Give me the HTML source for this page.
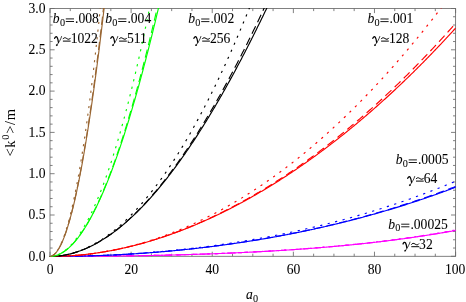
<!DOCTYPE html>
<html><head><meta charset="utf-8"><title>plot</title>
<style>html,body{margin:0;padding:0;background:#fff;}body{width:466px;height:302px;overflow:hidden;position:relative;font-family:"Liberation Serif",serif;}</style>
</head><body>
<svg width="466" height="302" viewBox="0 0 466 302" style="position:absolute;left:0;top:0;will-change:transform">
<defs><clipPath id="cp"><rect x="49.6" y="8.1" width="406.4" height="248.7"/></clipPath></defs>

<g stroke="#6a6a6a" stroke-width="0.85" fill="none">
<rect x="50.0" y="8.5" width="405.6" height="247.8"/>
<path d="M50.00,256.3 v-4.6 M50.00,8.5 v4.6"/>
<path d="M70.28,256.3 v-2.6 M70.28,8.5 v2.6"/>
<path d="M90.56,256.3 v-2.6 M90.56,8.5 v2.6"/>
<path d="M110.84,256.3 v-2.6 M110.84,8.5 v2.6"/>
<path d="M131.12,256.3 v-4.6 M131.12,8.5 v4.6"/>
<path d="M151.40,256.3 v-2.6 M151.40,8.5 v2.6"/>
<path d="M171.68,256.3 v-2.6 M171.68,8.5 v2.6"/>
<path d="M191.96,256.3 v-2.6 M191.96,8.5 v2.6"/>
<path d="M212.24,256.3 v-4.6 M212.24,8.5 v4.6"/>
<path d="M232.52,256.3 v-2.6 M232.52,8.5 v2.6"/>
<path d="M252.80,256.3 v-2.6 M252.80,8.5 v2.6"/>
<path d="M273.08,256.3 v-2.6 M273.08,8.5 v2.6"/>
<path d="M293.36,256.3 v-4.6 M293.36,8.5 v4.6"/>
<path d="M313.64,256.3 v-2.6 M313.64,8.5 v2.6"/>
<path d="M333.92,256.3 v-2.6 M333.92,8.5 v2.6"/>
<path d="M354.20,256.3 v-2.6 M354.20,8.5 v2.6"/>
<path d="M374.48,256.3 v-4.6 M374.48,8.5 v4.6"/>
<path d="M394.76,256.3 v-2.6 M394.76,8.5 v2.6"/>
<path d="M415.04,256.3 v-2.6 M415.04,8.5 v2.6"/>
<path d="M435.32,256.3 v-2.6 M435.32,8.5 v2.6"/>
<path d="M455.60,256.3 v-4.6 M455.60,8.5 v4.6"/>
<path d="M50.0,256.30 h4.6 M455.6,256.30 h-4.6"/>
<path d="M50.0,248.04 h2.6 M455.6,248.04 h-2.6"/>
<path d="M50.0,239.78 h2.6 M455.6,239.78 h-2.6"/>
<path d="M50.0,231.52 h2.6 M455.6,231.52 h-2.6"/>
<path d="M50.0,223.26 h2.6 M455.6,223.26 h-2.6"/>
<path d="M50.0,215.00 h4.6 M455.6,215.00 h-4.6"/>
<path d="M50.0,206.74 h2.6 M455.6,206.74 h-2.6"/>
<path d="M50.0,198.48 h2.6 M455.6,198.48 h-2.6"/>
<path d="M50.0,190.22 h2.6 M455.6,190.22 h-2.6"/>
<path d="M50.0,181.96 h2.6 M455.6,181.96 h-2.6"/>
<path d="M50.0,173.70 h4.6 M455.6,173.70 h-4.6"/>
<path d="M50.0,165.44 h2.6 M455.6,165.44 h-2.6"/>
<path d="M50.0,157.18 h2.6 M455.6,157.18 h-2.6"/>
<path d="M50.0,148.92 h2.6 M455.6,148.92 h-2.6"/>
<path d="M50.0,140.66 h2.6 M455.6,140.66 h-2.6"/>
<path d="M50.0,132.40 h4.6 M455.6,132.40 h-4.6"/>
<path d="M50.0,124.14 h2.6 M455.6,124.14 h-2.6"/>
<path d="M50.0,115.88 h2.6 M455.6,115.88 h-2.6"/>
<path d="M50.0,107.62 h2.6 M455.6,107.62 h-2.6"/>
<path d="M50.0,99.36 h2.6 M455.6,99.36 h-2.6"/>
<path d="M50.0,91.10 h4.6 M455.6,91.10 h-4.6"/>
<path d="M50.0,82.84 h2.6 M455.6,82.84 h-2.6"/>
<path d="M50.0,74.58 h2.6 M455.6,74.58 h-2.6"/>
<path d="M50.0,66.32 h2.6 M455.6,66.32 h-2.6"/>
<path d="M50.0,58.06 h2.6 M455.6,58.06 h-2.6"/>
<path d="M50.0,49.80 h4.6 M455.6,49.80 h-4.6"/>
<path d="M50.0,41.54 h2.6 M455.6,41.54 h-2.6"/>
<path d="M50.0,33.28 h2.6 M455.6,33.28 h-2.6"/>
<path d="M50.0,25.02 h2.6 M455.6,25.02 h-2.6"/>
<path d="M50.0,16.76 h2.6 M455.6,16.76 h-2.6"/>
<path d="M50.0,8.50 h4.6 M455.6,8.50 h-4.6"/>
</g>
<g clip-path="url(#cp)" fill="none" stroke-width="1.15" stroke-linejoin="round">
<path d="M49.50,256.50 L50.31,256.50 L51.13,256.50 L51.94,256.50 L52.75,256.50 L53.57,256.50 L54.38,256.50 L55.20,256.50 L56.01,256.50 L56.82,256.49 L57.64,256.49 L58.45,256.49 L59.26,256.49 L60.08,256.49 L60.89,256.49 L61.70,256.49 L62.52,256.48 L63.33,256.48 L64.15,256.48 L64.96,256.48 L65.77,256.48 L66.59,256.47 L67.40,256.47 L68.21,256.47 L69.03,256.46 L69.84,256.46 L70.65,256.46 L71.47,256.45 L72.28,256.45 L73.10,256.45 L73.91,256.44 L74.72,256.44 L75.54,256.44 L76.35,256.43 L77.16,256.43 L77.98,256.42 L78.79,256.42 L79.60,256.42 L80.42,256.41 L81.23,256.41 L82.05,256.40 L82.86,256.40 L83.67,256.39 L84.49,256.39 L85.30,256.38 L86.11,256.37 L86.93,256.37 L87.74,256.36 L88.55,256.36 L89.37,256.35 L90.18,256.34 L90.99,256.34 L91.81,256.33 L92.62,256.33 L93.44,256.32 L94.25,256.31 L95.06,256.30 L95.88,256.30 L96.69,256.29 L97.50,256.28 L98.32,256.28 L99.13,256.27 L99.94,256.26 L100.76,256.25 L101.57,256.24 L102.39,256.24 L103.20,256.23 L104.01,256.22 L104.83,256.21 L105.64,256.20 L106.45,256.19 L107.27,256.18 L108.08,256.18 L108.89,256.17 L109.71,256.16 L110.52,256.15 L111.34,256.14 L112.15,256.13 L112.96,256.12 L113.78,256.11 L114.59,256.10 L115.40,256.09 L116.22,256.08 L117.03,256.07 L117.84,256.06 L118.66,256.04 L119.47,256.03 L120.29,256.02 L121.10,256.01 L121.91,256.00 L122.73,255.99 L123.54,255.98 L124.35,255.96 L125.17,255.95 L125.98,255.94 L126.79,255.93 L127.61,255.92 L128.42,255.90 L129.24,255.89 L130.05,255.88 L130.86,255.86 L131.68,255.85 L132.49,255.84 L133.30,255.82 L134.12,255.81 L134.93,255.80 L135.74,255.78 L136.56,255.77 L137.37,255.76 L138.19,255.74 L139.00,255.73 L139.81,255.71 L140.63,255.70 L141.44,255.68 L142.25,255.67 L143.07,255.65 L143.88,255.64 L144.69,255.62 L145.51,255.61 L146.32,255.59 L147.14,255.57 L147.95,255.56 L148.76,255.54 L149.58,255.52 L150.39,255.51 L151.20,255.49 L152.02,255.47 L152.83,255.46 L153.64,255.44 L154.46,255.42 L155.27,255.40 L156.09,255.39 L156.90,255.37 L157.71,255.35 L158.53,255.33 L159.34,255.31 L160.15,255.30 L160.97,255.28 L161.78,255.26 L162.59,255.24 L163.41,255.22 L164.22,255.20 L165.04,255.18 L165.85,255.16 L166.66,255.14 L167.48,255.12 L168.29,255.10 L169.10,255.08 L169.92,255.06 L170.73,255.04 L171.54,255.02 L172.36,255.00 L173.17,254.98 L173.98,254.96 L174.80,254.93 L175.61,254.91 L176.43,254.89 L177.24,254.87 L178.05,254.85 L178.87,254.82 L179.68,254.80 L180.49,254.78 L181.31,254.76 L182.12,254.73 L182.93,254.71 L183.75,254.69 L184.56,254.66 L185.38,254.64 L186.19,254.61 L187.00,254.59 L187.82,254.56 L188.63,254.54 L189.44,254.52 L190.26,254.49 L191.07,254.47 L191.88,254.44 L192.70,254.41 L193.51,254.39 L194.33,254.36 L195.14,254.34 L195.95,254.31 L196.77,254.28 L197.58,254.26 L198.39,254.23 L199.21,254.20 L200.02,254.18 L200.83,254.15 L201.65,254.12 L202.46,254.09 L203.28,254.06 L204.09,254.04 L204.90,254.01 L205.72,253.98 L206.53,253.95 L207.34,253.92 L208.16,253.89 L208.97,253.86 L209.78,253.83 L210.60,253.80 L211.41,253.77 L212.23,253.74 L213.04,253.71 L213.85,253.68 L214.67,253.65 L215.48,253.62 L216.29,253.59 L217.11,253.55 L217.92,253.52 L218.73,253.49 L219.55,253.46 L220.36,253.43 L221.18,253.39 L221.99,253.36 L222.80,253.33 L223.62,253.29 L224.43,253.26 L225.24,253.23 L226.06,253.19 L226.87,253.16 L227.68,253.12 L228.50,253.09 L229.31,253.05 L230.13,253.02 L230.94,252.98 L231.75,252.95 L232.57,252.91 L233.38,252.88 L234.19,252.84 L235.01,252.80 L235.82,252.77 L236.63,252.73 L237.45,252.69 L238.26,252.65 L239.08,252.62 L239.89,252.58 L240.70,252.54 L241.52,252.50 L242.33,252.46 L243.14,252.42 L243.96,252.38 L244.77,252.34 L245.58,252.31 L246.40,252.27 L247.21,252.23 L248.03,252.18 L248.84,252.14 L249.65,252.10 L250.47,252.06 L251.28,252.02 L252.09,251.98 L252.91,251.94 L253.72,251.89 L254.53,251.85 L255.35,251.81 L256.16,251.77 L256.97,251.72 L257.79,251.68 L258.60,251.63 L259.42,251.59 L260.23,251.55 L261.04,251.50 L261.86,251.46 L262.67,251.41 L263.48,251.37 L264.30,251.32 L265.11,251.27 L265.92,251.23 L266.74,251.18 L267.55,251.13 L268.37,251.09 L269.18,251.04 L269.99,250.99 L270.81,250.94 L271.62,250.90 L272.43,250.85 L273.25,250.80 L274.06,250.75 L274.87,250.70 L275.69,250.65 L276.50,250.60 L277.32,250.55 L278.13,250.50 L278.94,250.45 L279.76,250.40 L280.57,250.35 L281.38,250.29 L282.20,250.24 L283.01,250.19 L283.82,250.14 L284.64,250.08 L285.45,250.03 L286.27,249.98 L287.08,249.92 L287.89,249.87 L288.71,249.82 L289.52,249.76 L290.33,249.71 L291.15,249.65 L291.96,249.59 L292.77,249.54 L293.59,249.48 L294.40,249.43 L295.22,249.37 L296.03,249.31 L296.84,249.25 L297.66,249.20 L298.47,249.14 L299.28,249.08 L300.10,249.02 L300.91,248.96 L301.72,248.90 L302.54,248.84 L303.35,248.78 L304.17,248.72 L304.98,248.66 L305.79,248.60 L306.61,248.54 L307.42,248.47 L308.23,248.41 L309.05,248.35 L309.86,248.29 L310.67,248.22 L311.49,248.16 L312.30,248.10 L313.12,248.03 L313.93,247.97 L314.74,247.90 L315.56,247.84 L316.37,247.77 L317.18,247.70 L318.00,247.64 L318.81,247.57 L319.62,247.50 L320.44,247.44 L321.25,247.37 L322.07,247.30 L322.88,247.23 L323.69,247.16 L324.51,247.09 L325.32,247.02 L326.13,246.95 L326.95,246.88 L327.76,246.81 L328.57,246.74 L329.39,246.67 L330.20,246.60 L331.02,246.52 L331.83,246.45 L332.64,246.38 L333.46,246.30 L334.27,246.23 L335.08,246.16 L335.90,246.08 L336.71,246.01 L337.52,245.93 L338.34,245.85 L339.15,245.78 L339.96,245.70 L340.78,245.62 L341.59,245.55 L342.41,245.47 L343.22,245.39 L344.03,245.31 L344.85,245.23 L345.66,245.15 L346.47,245.07 L347.29,244.99 L348.10,244.91 L348.91,244.83 L349.73,244.75 L350.54,244.67 L351.36,244.58 L352.17,244.50 L352.98,244.42 L353.80,244.34 L354.61,244.25 L355.42,244.17 L356.24,244.08 L357.05,244.00 L357.86,243.91 L358.68,243.82 L359.49,243.74 L360.31,243.65 L361.12,243.56 L361.93,243.47 L362.75,243.39 L363.56,243.30 L364.37,243.21 L365.19,243.12 L366.00,243.03 L366.81,242.94 L367.63,242.85 L368.44,242.75 L369.26,242.66 L370.07,242.57 L370.88,242.48 L371.70,242.38 L372.51,242.29 L373.32,242.19 L374.14,242.10 L374.95,242.00 L375.76,241.91 L376.58,241.81 L377.39,241.72 L378.21,241.62 L379.02,241.52 L379.83,241.42 L380.65,241.32 L381.46,241.22 L382.27,241.13 L383.09,241.03 L383.90,240.92 L384.71,240.82 L385.53,240.72 L386.34,240.62 L387.16,240.52 L387.97,240.41 L388.78,240.31 L389.60,240.21 L390.41,240.10 L391.22,240.00 L392.04,239.89 L392.85,239.79 L393.66,239.68 L394.48,239.57 L395.29,239.46 L396.11,239.36 L396.92,239.25 L397.73,239.14 L398.55,239.03 L399.36,238.92 L400.17,238.81 L400.99,238.70 L401.80,238.58 L402.61,238.47 L403.43,238.36 L404.24,238.25 L405.06,238.13 L405.87,238.02 L406.68,237.90 L407.50,237.79 L408.31,237.67 L409.12,237.55 L409.94,237.44 L410.75,237.32 L411.56,237.20 L412.38,237.08 L413.19,236.96 L414.01,236.84 L414.82,236.72 L415.63,236.60 L416.45,236.48 L417.26,236.36 L418.07,236.24 L418.89,236.11 L419.70,235.99 L420.51,235.86 L421.33,235.74 L422.14,235.61 L422.95,235.49 L423.77,235.36 L424.58,235.23 L425.40,235.11 L426.21,234.98 L427.02,234.85 L427.84,234.72 L428.65,234.59 L429.46,234.46 L430.28,234.33 L431.09,234.19 L431.90,234.06 L432.72,233.93 L433.53,233.79 L434.35,233.66 L435.16,233.53 L435.97,233.39 L436.79,233.25 L437.60,233.12 L438.41,232.98 L439.23,232.84 L440.04,232.70 L440.85,232.56 L441.67,232.42 L442.48,232.28 L443.30,232.14 L444.11,232.00 L444.92,231.86 L445.74,231.71 L446.55,231.57 L447.36,231.43 L448.18,231.28 L448.99,231.13 L449.80,230.99 L450.62,230.84 L451.43,230.69 L452.25,230.55 L453.06,230.40 L453.87,230.25 L454.69,230.10 L455.50,229.95" stroke="#ff00ff" stroke-dasharray="2.2 5.5" stroke-dashoffset="4.01"/>
<path d="M49.50,256.50 L50.31,256.50 L51.13,256.50 L51.94,256.50 L52.75,256.50 L53.57,256.50 L54.38,256.50 L55.20,256.50 L56.01,256.50 L56.82,256.50 L57.64,256.49 L58.45,256.49 L59.26,256.49 L60.08,256.49 L60.89,256.49 L61.70,256.49 L62.52,256.48 L63.33,256.48 L64.15,256.48 L64.96,256.48 L65.77,256.48 L66.59,256.47 L67.40,256.47 L68.21,256.47 L69.03,256.47 L69.84,256.46 L70.65,256.46 L71.47,256.46 L72.28,256.45 L73.10,256.45 L73.91,256.45 L74.72,256.44 L75.54,256.44 L76.35,256.43 L77.16,256.43 L77.98,256.43 L78.79,256.42 L79.60,256.42 L80.42,256.41 L81.23,256.41 L82.05,256.40 L82.86,256.40 L83.67,256.39 L84.49,256.39 L85.30,256.38 L86.11,256.38 L86.93,256.37 L87.74,256.37 L88.55,256.36 L89.37,256.35 L90.18,256.35 L90.99,256.34 L91.81,256.33 L92.62,256.33 L93.44,256.32 L94.25,256.32 L95.06,256.31 L95.88,256.30 L96.69,256.29 L97.50,256.29 L98.32,256.28 L99.13,256.27 L99.94,256.26 L100.76,256.26 L101.57,256.25 L102.39,256.24 L103.20,256.23 L104.01,256.22 L104.83,256.22 L105.64,256.21 L106.45,256.20 L107.27,256.19 L108.08,256.18 L108.89,256.17 L109.71,256.16 L110.52,256.15 L111.34,256.14 L112.15,256.13 L112.96,256.12 L113.78,256.12 L114.59,256.11 L115.40,256.09 L116.22,256.08 L117.03,256.07 L117.84,256.06 L118.66,256.05 L119.47,256.04 L120.29,256.03 L121.10,256.02 L121.91,256.01 L122.73,256.00 L123.54,255.99 L124.35,255.97 L125.17,255.96 L125.98,255.95 L126.79,255.94 L127.61,255.93 L128.42,255.91 L129.24,255.90 L130.05,255.89 L130.86,255.88 L131.68,255.86 L132.49,255.85 L133.30,255.84 L134.12,255.82 L134.93,255.81 L135.74,255.80 L136.56,255.78 L137.37,255.77 L138.19,255.76 L139.00,255.74 L139.81,255.73 L140.63,255.71 L141.44,255.70 L142.25,255.68 L143.07,255.67 L143.88,255.65 L144.69,255.64 L145.51,255.62 L146.32,255.61 L147.14,255.59 L147.95,255.57 L148.76,255.56 L149.58,255.54 L150.39,255.53 L151.20,255.51 L152.02,255.49 L152.83,255.48 L153.64,255.46 L154.46,255.44 L155.27,255.43 L156.09,255.41 L156.90,255.39 L157.71,255.37 L158.53,255.35 L159.34,255.34 L160.15,255.32 L160.97,255.30 L161.78,255.28 L162.59,255.26 L163.41,255.24 L164.22,255.23 L165.04,255.21 L165.85,255.19 L166.66,255.17 L167.48,255.15 L168.29,255.13 L169.10,255.11 L169.92,255.09 L170.73,255.07 L171.54,255.05 L172.36,255.03 L173.17,255.00 L173.98,254.98 L174.80,254.96 L175.61,254.94 L176.43,254.92 L177.24,254.90 L178.05,254.88 L178.87,254.85 L179.68,254.83 L180.49,254.81 L181.31,254.79 L182.12,254.76 L182.93,254.74 L183.75,254.72 L184.56,254.69 L185.38,254.67 L186.19,254.65 L187.00,254.62 L187.82,254.60 L188.63,254.58 L189.44,254.55 L190.26,254.53 L191.07,254.50 L191.88,254.48 L192.70,254.45 L193.51,254.43 L194.33,254.40 L195.14,254.38 L195.95,254.35 L196.77,254.32 L197.58,254.30 L198.39,254.27 L199.21,254.24 L200.02,254.22 L200.83,254.19 L201.65,254.16 L202.46,254.14 L203.28,254.11 L204.09,254.08 L204.90,254.05 L205.72,254.02 L206.53,254.00 L207.34,253.97 L208.16,253.94 L208.97,253.91 L209.78,253.88 L210.60,253.85 L211.41,253.82 L212.23,253.79 L213.04,253.76 L213.85,253.73 L214.67,253.70 L215.48,253.67 L216.29,253.64 L217.11,253.61 L217.92,253.58 L218.73,253.54 L219.55,253.51 L220.36,253.48 L221.18,253.45 L221.99,253.42 L222.80,253.38 L223.62,253.35 L224.43,253.32 L225.24,253.28 L226.06,253.25 L226.87,253.22 L227.68,253.18 L228.50,253.15 L229.31,253.11 L230.13,253.08 L230.94,253.05 L231.75,253.01 L232.57,252.97 L233.38,252.94 L234.19,252.90 L235.01,252.87 L235.82,252.83 L236.63,252.79 L237.45,252.76 L238.26,252.72 L239.08,252.68 L239.89,252.65 L240.70,252.61 L241.52,252.57 L242.33,252.53 L243.14,252.49 L243.96,252.46 L244.77,252.42 L245.58,252.38 L246.40,252.34 L247.21,252.30 L248.03,252.26 L248.84,252.22 L249.65,252.18 L250.47,252.14 L251.28,252.10 L252.09,252.06 L252.91,252.02 L253.72,251.97 L254.53,251.93 L255.35,251.89 L256.16,251.85 L256.97,251.80 L257.79,251.76 L258.60,251.72 L259.42,251.68 L260.23,251.63 L261.04,251.59 L261.86,251.54 L262.67,251.50 L263.48,251.45 L264.30,251.41 L265.11,251.36 L265.92,251.32 L266.74,251.27 L267.55,251.23 L268.37,251.18 L269.18,251.13 L269.99,251.09 L270.81,251.04 L271.62,250.99 L272.43,250.94 L273.25,250.90 L274.06,250.85 L274.87,250.80 L275.69,250.75 L276.50,250.70 L277.32,250.65 L278.13,250.60 L278.94,250.55 L279.76,250.50 L280.57,250.45 L281.38,250.40 L282.20,250.35 L283.01,250.30 L283.82,250.25 L284.64,250.19 L285.45,250.14 L286.27,250.09 L287.08,250.04 L287.89,249.98 L288.71,249.93 L289.52,249.87 L290.33,249.82 L291.15,249.77 L291.96,249.71 L292.77,249.66 L293.59,249.60 L294.40,249.54 L295.22,249.49 L296.03,249.43 L296.84,249.37 L297.66,249.32 L298.47,249.26 L299.28,249.20 L300.10,249.14 L300.91,249.09 L301.72,249.03 L302.54,248.97 L303.35,248.91 L304.17,248.85 L304.98,248.79 L305.79,248.73 L306.61,248.67 L307.42,248.61 L308.23,248.55 L309.05,248.48 L309.86,248.42 L310.67,248.36 L311.49,248.30 L312.30,248.23 L313.12,248.17 L313.93,248.11 L314.74,248.04 L315.56,247.98 L316.37,247.91 L317.18,247.85 L318.00,247.78 L318.81,247.72 L319.62,247.65 L320.44,247.58 L321.25,247.52 L322.07,247.45 L322.88,247.38 L323.69,247.31 L324.51,247.25 L325.32,247.18 L326.13,247.11 L326.95,247.04 L327.76,246.97 L328.57,246.90 L329.39,246.83 L330.20,246.76 L331.02,246.69 L331.83,246.61 L332.64,246.54 L333.46,246.47 L334.27,246.40 L335.08,246.32 L335.90,246.25 L336.71,246.18 L337.52,246.10 L338.34,246.03 L339.15,245.95 L339.96,245.88 L340.78,245.80 L341.59,245.72 L342.41,245.65 L343.22,245.57 L344.03,245.49 L344.85,245.41 L345.66,245.34 L346.47,245.26 L347.29,245.18 L348.10,245.10 L348.91,245.02 L349.73,244.94 L350.54,244.86 L351.36,244.78 L352.17,244.69 L352.98,244.61 L353.80,244.53 L354.61,244.45 L355.42,244.36 L356.24,244.28 L357.05,244.20 L357.86,244.11 L358.68,244.03 L359.49,243.94 L360.31,243.85 L361.12,243.77 L361.93,243.68 L362.75,243.59 L363.56,243.51 L364.37,243.42 L365.19,243.33 L366.00,243.24 L366.81,243.15 L367.63,243.06 L368.44,242.97 L369.26,242.88 L370.07,242.79 L370.88,242.70 L371.70,242.61 L372.51,242.51 L373.32,242.42 L374.14,242.33 L374.95,242.23 L375.76,242.14 L376.58,242.04 L377.39,241.95 L378.21,241.85 L379.02,241.76 L379.83,241.66 L380.65,241.56 L381.46,241.46 L382.27,241.37 L383.09,241.27 L383.90,241.17 L384.71,241.07 L385.53,240.97 L386.34,240.87 L387.16,240.77 L387.97,240.67 L388.78,240.56 L389.60,240.46 L390.41,240.36 L391.22,240.25 L392.04,240.15 L392.85,240.05 L393.66,239.94 L394.48,239.83 L395.29,239.73 L396.11,239.62 L396.92,239.51 L397.73,239.41 L398.55,239.30 L399.36,239.19 L400.17,239.08 L400.99,238.97 L401.80,238.86 L402.61,238.75 L403.43,238.64 L404.24,238.53 L405.06,238.42 L405.87,238.30 L406.68,238.19 L407.50,238.07 L408.31,237.96 L409.12,237.85 L409.94,237.73 L410.75,237.61 L411.56,237.50 L412.38,237.38 L413.19,237.26 L414.01,237.14 L414.82,237.03 L415.63,236.91 L416.45,236.79 L417.26,236.67 L418.07,236.54 L418.89,236.42 L419.70,236.30 L420.51,236.18 L421.33,236.05 L422.14,235.93 L422.95,235.81 L423.77,235.68 L424.58,235.56 L425.40,235.43 L426.21,235.30 L427.02,235.18 L427.84,235.05 L428.65,234.92 L429.46,234.79 L430.28,234.66 L431.09,234.53 L431.90,234.40 L432.72,234.27 L433.53,234.14 L434.35,234.00 L435.16,233.87 L435.97,233.74 L436.79,233.60 L437.60,233.47 L438.41,233.33 L439.23,233.19 L440.04,233.06 L440.85,232.92 L441.67,232.78 L442.48,232.64 L443.30,232.50 L444.11,232.36 L444.92,232.22 L445.74,232.08 L446.55,231.94 L447.36,231.80 L448.18,231.65 L448.99,231.51 L449.80,231.37 L450.62,231.22 L451.43,231.08 L452.25,230.93 L453.06,230.78 L453.87,230.63 L454.69,230.49 L455.50,230.34" stroke="#ff00ff" stroke-dasharray="8.2 4.5" stroke-dashoffset="0.00"/>
<path d="M49.50,256.50 L50.31,256.50 L51.13,256.50 L51.94,256.50 L52.75,256.50 L53.57,256.50 L54.38,256.50 L55.20,256.50 L56.01,256.50 L56.82,256.50 L57.64,256.49 L58.45,256.49 L59.26,256.49 L60.08,256.49 L60.89,256.49 L61.70,256.49 L62.52,256.48 L63.33,256.48 L64.15,256.48 L64.96,256.48 L65.77,256.48 L66.59,256.47 L67.40,256.47 L68.21,256.47 L69.03,256.47 L69.84,256.46 L70.65,256.46 L71.47,256.46 L72.28,256.45 L73.10,256.45 L73.91,256.45 L74.72,256.44 L75.54,256.44 L76.35,256.43 L77.16,256.43 L77.98,256.43 L78.79,256.42 L79.60,256.42 L80.42,256.41 L81.23,256.41 L82.05,256.40 L82.86,256.40 L83.67,256.39 L84.49,256.39 L85.30,256.38 L86.11,256.38 L86.93,256.37 L87.74,256.37 L88.55,256.36 L89.37,256.35 L90.18,256.35 L90.99,256.34 L91.81,256.34 L92.62,256.33 L93.44,256.32 L94.25,256.32 L95.06,256.31 L95.88,256.30 L96.69,256.29 L97.50,256.29 L98.32,256.28 L99.13,256.27 L99.94,256.26 L100.76,256.26 L101.57,256.25 L102.39,256.24 L103.20,256.23 L104.01,256.22 L104.83,256.22 L105.64,256.21 L106.45,256.20 L107.27,256.19 L108.08,256.18 L108.89,256.17 L109.71,256.16 L110.52,256.15 L111.34,256.14 L112.15,256.13 L112.96,256.13 L113.78,256.12 L114.59,256.11 L115.40,256.10 L116.22,256.09 L117.03,256.07 L117.84,256.06 L118.66,256.05 L119.47,256.04 L120.29,256.03 L121.10,256.02 L121.91,256.01 L122.73,256.00 L123.54,255.99 L124.35,255.98 L125.17,255.96 L125.98,255.95 L126.79,255.94 L127.61,255.93 L128.42,255.91 L129.24,255.90 L130.05,255.89 L130.86,255.88 L131.68,255.86 L132.49,255.85 L133.30,255.84 L134.12,255.82 L134.93,255.81 L135.74,255.80 L136.56,255.78 L137.37,255.77 L138.19,255.76 L139.00,255.74 L139.81,255.73 L140.63,255.71 L141.44,255.70 L142.25,255.68 L143.07,255.67 L143.88,255.65 L144.69,255.64 L145.51,255.62 L146.32,255.61 L147.14,255.59 L147.95,255.58 L148.76,255.56 L149.58,255.54 L150.39,255.53 L151.20,255.51 L152.02,255.49 L152.83,255.48 L153.64,255.46 L154.46,255.44 L155.27,255.43 L156.09,255.41 L156.90,255.39 L157.71,255.37 L158.53,255.36 L159.34,255.34 L160.15,255.32 L160.97,255.30 L161.78,255.28 L162.59,255.26 L163.41,255.25 L164.22,255.23 L165.04,255.21 L165.85,255.19 L166.66,255.17 L167.48,255.15 L168.29,255.13 L169.10,255.11 L169.92,255.09 L170.73,255.07 L171.54,255.05 L172.36,255.03 L173.17,255.01 L173.98,254.99 L174.80,254.97 L175.61,254.94 L176.43,254.92 L177.24,254.90 L178.05,254.88 L178.87,254.86 L179.68,254.83 L180.49,254.81 L181.31,254.79 L182.12,254.77 L182.93,254.74 L183.75,254.72 L184.56,254.70 L185.38,254.67 L186.19,254.65 L187.00,254.63 L187.82,254.60 L188.63,254.58 L189.44,254.55 L190.26,254.53 L191.07,254.51 L191.88,254.48 L192.70,254.46 L193.51,254.43 L194.33,254.41 L195.14,254.38 L195.95,254.35 L196.77,254.33 L197.58,254.30 L198.39,254.27 L199.21,254.25 L200.02,254.22 L200.83,254.19 L201.65,254.17 L202.46,254.14 L203.28,254.11 L204.09,254.08 L204.90,254.06 L205.72,254.03 L206.53,254.00 L207.34,253.97 L208.16,253.94 L208.97,253.91 L209.78,253.89 L210.60,253.86 L211.41,253.83 L212.23,253.80 L213.04,253.77 L213.85,253.74 L214.67,253.71 L215.48,253.68 L216.29,253.64 L217.11,253.61 L217.92,253.58 L218.73,253.55 L219.55,253.52 L220.36,253.49 L221.18,253.46 L221.99,253.42 L222.80,253.39 L223.62,253.36 L224.43,253.32 L225.24,253.29 L226.06,253.26 L226.87,253.22 L227.68,253.19 L228.50,253.16 L229.31,253.12 L230.13,253.09 L230.94,253.05 L231.75,253.02 L232.57,252.98 L233.38,252.95 L234.19,252.91 L235.01,252.88 L235.82,252.84 L236.63,252.80 L237.45,252.77 L238.26,252.73 L239.08,252.69 L239.89,252.66 L240.70,252.62 L241.52,252.58 L242.33,252.54 L243.14,252.50 L243.96,252.47 L244.77,252.43 L245.58,252.39 L246.40,252.35 L247.21,252.31 L248.03,252.27 L248.84,252.23 L249.65,252.19 L250.47,252.15 L251.28,252.11 L252.09,252.07 L252.91,252.03 L253.72,251.99 L254.53,251.94 L255.35,251.90 L256.16,251.86 L256.97,251.82 L257.79,251.77 L258.60,251.73 L259.42,251.69 L260.23,251.64 L261.04,251.60 L261.86,251.56 L262.67,251.51 L263.48,251.47 L264.30,251.42 L265.11,251.38 L265.92,251.33 L266.74,251.29 L267.55,251.24 L268.37,251.20 L269.18,251.15 L269.99,251.10 L270.81,251.06 L271.62,251.01 L272.43,250.96 L273.25,250.91 L274.06,250.86 L274.87,250.82 L275.69,250.77 L276.50,250.72 L277.32,250.67 L278.13,250.62 L278.94,250.57 L279.76,250.52 L280.57,250.47 L281.38,250.42 L282.20,250.37 L283.01,250.32 L283.82,250.26 L284.64,250.21 L285.45,250.16 L286.27,250.11 L287.08,250.05 L287.89,250.00 L288.71,249.95 L289.52,249.89 L290.33,249.84 L291.15,249.79 L291.96,249.73 L292.77,249.68 L293.59,249.62 L294.40,249.57 L295.22,249.51 L296.03,249.45 L296.84,249.40 L297.66,249.34 L298.47,249.28 L299.28,249.23 L300.10,249.17 L300.91,249.11 L301.72,249.05 L302.54,248.99 L303.35,248.93 L304.17,248.87 L304.98,248.81 L305.79,248.75 L306.61,248.69 L307.42,248.63 L308.23,248.57 L309.05,248.51 L309.86,248.45 L310.67,248.39 L311.49,248.33 L312.30,248.26 L313.12,248.20 L313.93,248.14 L314.74,248.07 L315.56,248.01 L316.37,247.94 L317.18,247.88 L318.00,247.81 L318.81,247.75 L319.62,247.68 L320.44,247.62 L321.25,247.55 L322.07,247.48 L322.88,247.42 L323.69,247.35 L324.51,247.28 L325.32,247.21 L326.13,247.14 L326.95,247.07 L327.76,247.00 L328.57,246.93 L329.39,246.86 L330.20,246.79 L331.02,246.72 L331.83,246.65 L332.64,246.58 L333.46,246.51 L334.27,246.43 L335.08,246.36 L335.90,246.29 L336.71,246.21 L337.52,246.14 L338.34,246.07 L339.15,245.99 L339.96,245.92 L340.78,245.84 L341.59,245.76 L342.41,245.69 L343.22,245.61 L344.03,245.53 L344.85,245.46 L345.66,245.38 L346.47,245.30 L347.29,245.22 L348.10,245.14 L348.91,245.06 L349.73,244.98 L350.54,244.90 L351.36,244.82 L352.17,244.74 L352.98,244.66 L353.80,244.58 L354.61,244.49 L355.42,244.41 L356.24,244.33 L357.05,244.24 L357.86,244.16 L358.68,244.08 L359.49,243.99 L360.31,243.91 L361.12,243.82 L361.93,243.73 L362.75,243.65 L363.56,243.56 L364.37,243.47 L365.19,243.38 L366.00,243.30 L366.81,243.21 L367.63,243.12 L368.44,243.03 L369.26,242.94 L370.07,242.85 L370.88,242.76 L371.70,242.66 L372.51,242.57 L373.32,242.48 L374.14,242.39 L374.95,242.29 L375.76,242.20 L376.58,242.10 L377.39,242.01 L378.21,241.91 L379.02,241.82 L379.83,241.72 L380.65,241.63 L381.46,241.53 L382.27,241.43 L383.09,241.33 L383.90,241.23 L384.71,241.14 L385.53,241.04 L386.34,240.94 L387.16,240.84 L387.97,240.73 L388.78,240.63 L389.60,240.53 L390.41,240.43 L391.22,240.33 L392.04,240.22 L392.85,240.12 L393.66,240.01 L394.48,239.91 L395.29,239.80 L396.11,239.70 L396.92,239.59 L397.73,239.48 L398.55,239.38 L399.36,239.27 L400.17,239.16 L400.99,239.05 L401.80,238.94 L402.61,238.83 L403.43,238.72 L404.24,238.61 L405.06,238.50 L405.87,238.39 L406.68,238.27 L407.50,238.16 L408.31,238.05 L409.12,237.93 L409.94,237.82 L410.75,237.70 L411.56,237.59 L412.38,237.47 L413.19,237.35 L414.01,237.23 L414.82,237.12 L415.63,237.00 L416.45,236.88 L417.26,236.76 L418.07,236.64 L418.89,236.52 L419.70,236.40 L420.51,236.27 L421.33,236.15 L422.14,236.03 L422.95,235.91 L423.77,235.78 L424.58,235.66 L425.40,235.53 L426.21,235.41 L427.02,235.28 L427.84,235.15 L428.65,235.02 L429.46,234.90 L430.28,234.77 L431.09,234.64 L431.90,234.51 L432.72,234.38 L433.53,234.25 L434.35,234.11 L435.16,233.98 L435.97,233.85 L436.79,233.72 L437.60,233.58 L438.41,233.45 L439.23,233.31 L440.04,233.18 L440.85,233.04 L441.67,232.90 L442.48,232.76 L443.30,232.63 L444.11,232.49 L444.92,232.35 L445.74,232.21 L446.55,232.07 L447.36,231.92 L448.18,231.78 L448.99,231.64 L449.80,231.50 L450.62,231.35 L451.43,231.21 L452.25,231.06 L453.06,230.92 L453.87,230.77 L454.69,230.62 L455.50,230.47" stroke="#ff00ff"/>
<path d="M49.50,256.50 L50.31,256.50 L51.13,256.50 L51.94,256.50 L52.75,256.50 L53.57,256.49 L54.38,256.49 L55.20,256.49 L56.01,256.48 L56.82,256.48 L57.64,256.47 L58.45,256.47 L59.26,256.46 L60.08,256.46 L60.89,256.45 L61.70,256.44 L62.52,256.43 L63.33,256.42 L64.15,256.42 L64.96,256.41 L65.77,256.40 L66.59,256.38 L67.40,256.37 L68.21,256.36 L69.03,256.35 L69.84,256.34 L70.65,256.32 L71.47,256.31 L72.28,256.30 L73.10,256.28 L73.91,256.27 L74.72,256.25 L75.54,256.23 L76.35,256.22 L77.16,256.20 L77.98,256.18 L78.79,256.16 L79.60,256.14 L80.42,256.12 L81.23,256.10 L82.05,256.08 L82.86,256.06 L83.67,256.04 L84.49,256.02 L85.30,255.99 L86.11,255.97 L86.93,255.95 L87.74,255.92 L88.55,255.90 L89.37,255.87 L90.18,255.85 L90.99,255.82 L91.81,255.79 L92.62,255.77 L93.44,255.74 L94.25,255.71 L95.06,255.68 L95.88,255.65 L96.69,255.62 L97.50,255.59 L98.32,255.56 L99.13,255.53 L99.94,255.50 L100.76,255.46 L101.57,255.43 L102.39,255.40 L103.20,255.36 L104.01,255.33 L104.83,255.29 L105.64,255.25 L106.45,255.22 L107.27,255.18 L108.08,255.14 L108.89,255.11 L109.71,255.07 L110.52,255.03 L111.34,254.99 L112.15,254.95 L112.96,254.91 L113.78,254.87 L114.59,254.82 L115.40,254.78 L116.22,254.74 L117.03,254.70 L117.84,254.65 L118.66,254.61 L119.47,254.56 L120.29,254.52 L121.10,254.47 L121.91,254.42 L122.73,254.38 L123.54,254.33 L124.35,254.28 L125.17,254.23 L125.98,254.18 L126.79,254.13 L127.61,254.08 L128.42,254.03 L129.24,253.98 L130.05,253.93 L130.86,253.88 L131.68,253.82 L132.49,253.77 L133.30,253.71 L134.12,253.66 L134.93,253.60 L135.74,253.55 L136.56,253.49 L137.37,253.44 L138.19,253.38 L139.00,253.32 L139.81,253.26 L140.63,253.20 L141.44,253.14 L142.25,253.08 L143.07,253.02 L143.88,252.96 L144.69,252.90 L145.51,252.84 L146.32,252.77 L147.14,252.71 L147.95,252.65 L148.76,252.58 L149.58,252.52 L150.39,252.45 L151.20,252.38 L152.02,252.32 L152.83,252.25 L153.64,252.18 L154.46,252.11 L155.27,252.05 L156.09,251.98 L156.90,251.91 L157.71,251.84 L158.53,251.76 L159.34,251.69 L160.15,251.62 L160.97,251.55 L161.78,251.47 L162.59,251.40 L163.41,251.32 L164.22,251.25 L165.04,251.17 L165.85,251.10 L166.66,251.02 L167.48,250.94 L168.29,250.87 L169.10,250.79 L169.92,250.71 L170.73,250.63 L171.54,250.55 L172.36,250.47 L173.17,250.39 L173.98,250.30 L174.80,250.22 L175.61,250.14 L176.43,250.06 L177.24,249.97 L178.05,249.89 L178.87,249.80 L179.68,249.72 L180.49,249.63 L181.31,249.54 L182.12,249.45 L182.93,249.37 L183.75,249.28 L184.56,249.19 L185.38,249.10 L186.19,249.01 L187.00,248.92 L187.82,248.82 L188.63,248.73 L189.44,248.64 L190.26,248.55 L191.07,248.45 L191.88,248.36 L192.70,248.26 L193.51,248.17 L194.33,248.07 L195.14,247.97 L195.95,247.88 L196.77,247.78 L197.58,247.68 L198.39,247.58 L199.21,247.48 L200.02,247.38 L200.83,247.28 L201.65,247.18 L202.46,247.08 L203.28,246.97 L204.09,246.87 L204.90,246.77 L205.72,246.66 L206.53,246.56 L207.34,246.45 L208.16,246.34 L208.97,246.24 L209.78,246.13 L210.60,246.02 L211.41,245.91 L212.23,245.80 L213.04,245.69 L213.85,245.58 L214.67,245.47 L215.48,245.36 L216.29,245.25 L217.11,245.13 L217.92,245.02 L218.73,244.91 L219.55,244.79 L220.36,244.68 L221.18,244.56 L221.99,244.44 L222.80,244.33 L223.62,244.21 L224.43,244.09 L225.24,243.97 L226.06,243.85 L226.87,243.73 L227.68,243.61 L228.50,243.49 L229.31,243.37 L230.13,243.24 L230.94,243.12 L231.75,243.00 L232.57,242.87 L233.38,242.75 L234.19,242.62 L235.01,242.49 L235.82,242.37 L236.63,242.24 L237.45,242.11 L238.26,241.98 L239.08,241.85 L239.89,241.72 L240.70,241.59 L241.52,241.46 L242.33,241.33 L243.14,241.20 L243.96,241.06 L244.77,240.93 L245.58,240.79 L246.40,240.66 L247.21,240.52 L248.03,240.39 L248.84,240.25 L249.65,240.11 L250.47,239.97 L251.28,239.83 L252.09,239.69 L252.91,239.55 L253.72,239.41 L254.53,239.27 L255.35,239.13 L256.16,238.98 L256.97,238.84 L257.79,238.70 L258.60,238.55 L259.42,238.41 L260.23,238.26 L261.04,238.11 L261.86,237.96 L262.67,237.82 L263.48,237.67 L264.30,237.52 L265.11,237.37 L265.92,237.22 L266.74,237.07 L267.55,236.91 L268.37,236.76 L269.18,236.61 L269.99,236.45 L270.81,236.30 L271.62,236.14 L272.43,235.99 L273.25,235.83 L274.06,235.67 L274.87,235.51 L275.69,235.35 L276.50,235.19 L277.32,235.03 L278.13,234.87 L278.94,234.71 L279.76,234.55 L280.57,234.39 L281.38,234.22 L282.20,234.06 L283.01,233.89 L283.82,233.73 L284.64,233.56 L285.45,233.39 L286.27,233.23 L287.08,233.06 L287.89,232.89 L288.71,232.72 L289.52,232.55 L290.33,232.38 L291.15,232.20 L291.96,232.03 L292.77,231.86 L293.59,231.68 L294.40,231.51 L295.22,231.33 L296.03,231.16 L296.84,230.98 L297.66,230.80 L298.47,230.63 L299.28,230.45 L300.10,230.27 L300.91,230.09 L301.72,229.90 L302.54,229.72 L303.35,229.54 L304.17,229.36 L304.98,229.17 L305.79,228.99 L306.61,228.80 L307.42,228.62 L308.23,228.43 L309.05,228.24 L309.86,228.05 L310.67,227.87 L311.49,227.68 L312.30,227.49 L313.12,227.29 L313.93,227.10 L314.74,226.91 L315.56,226.72 L316.37,226.52 L317.18,226.33 L318.00,226.13 L318.81,225.93 L319.62,225.74 L320.44,225.54 L321.25,225.34 L322.07,225.14 L322.88,224.94 L323.69,224.74 L324.51,224.54 L325.32,224.34 L326.13,224.13 L326.95,223.93 L327.76,223.73 L328.57,223.52 L329.39,223.31 L330.20,223.11 L331.02,222.90 L331.83,222.69 L332.64,222.48 L333.46,222.27 L334.27,222.06 L335.08,221.85 L335.90,221.64 L336.71,221.43 L337.52,221.21 L338.34,221.00 L339.15,220.78 L339.96,220.57 L340.78,220.35 L341.59,220.13 L342.41,219.91 L343.22,219.69 L344.03,219.47 L344.85,219.25 L345.66,219.03 L346.47,218.81 L347.29,218.59 L348.10,218.36 L348.91,218.14 L349.73,217.91 L350.54,217.69 L351.36,217.46 L352.17,217.23 L352.98,217.00 L353.80,216.77 L354.61,216.54 L355.42,216.31 L356.24,216.08 L357.05,215.85 L357.86,215.61 L358.68,215.38 L359.49,215.14 L360.31,214.91 L361.12,214.67 L361.93,214.43 L362.75,214.20 L363.56,213.96 L364.37,213.72 L365.19,213.48 L366.00,213.23 L366.81,212.99 L367.63,212.75 L368.44,212.51 L369.26,212.26 L370.07,212.01 L370.88,211.77 L371.70,211.52 L372.51,211.27 L373.32,211.02 L374.14,210.77 L374.95,210.52 L375.76,210.27 L376.58,210.02 L377.39,209.77 L378.21,209.51 L379.02,209.26 L379.83,209.00 L380.65,208.74 L381.46,208.49 L382.27,208.23 L383.09,207.97 L383.90,207.71 L384.71,207.45 L385.53,207.19 L386.34,206.92 L387.16,206.66 L387.97,206.40 L388.78,206.13 L389.60,205.86 L390.41,205.60 L391.22,205.33 L392.04,205.06 L392.85,204.79 L393.66,204.52 L394.48,204.25 L395.29,203.98 L396.11,203.70 L396.92,203.43 L397.73,203.16 L398.55,202.88 L399.36,202.60 L400.17,202.33 L400.99,202.05 L401.80,201.77 L402.61,201.49 L403.43,201.21 L404.24,200.92 L405.06,200.64 L405.87,200.36 L406.68,200.07 L407.50,199.79 L408.31,199.50 L409.12,199.21 L409.94,198.92 L410.75,198.64 L411.56,198.35 L412.38,198.05 L413.19,197.76 L414.01,197.47 L414.82,197.18 L415.63,196.88 L416.45,196.58 L417.26,196.29 L418.07,195.99 L418.89,195.69 L419.70,195.39 L420.51,195.09 L421.33,194.79 L422.14,194.49 L422.95,194.19 L423.77,193.88 L424.58,193.58 L425.40,193.27 L426.21,192.96 L427.02,192.66 L427.84,192.35 L428.65,192.04 L429.46,191.73 L430.28,191.41 L431.09,191.10 L431.90,190.79 L432.72,190.47 L433.53,190.16 L434.35,189.84 L435.16,189.52 L435.97,189.21 L436.79,188.89 L437.60,188.57 L438.41,188.24 L439.23,187.92 L440.04,187.60 L440.85,187.27 L441.67,186.95 L442.48,186.62 L443.30,186.30 L444.11,185.97 L444.92,185.64 L445.74,185.31 L446.55,184.98 L447.36,184.64 L448.18,184.31 L448.99,183.98 L449.80,183.64 L450.62,183.31 L451.43,182.97 L452.25,182.63 L453.06,182.29 L453.87,181.95 L454.69,181.61 L455.50,181.27" stroke="#0000ff" stroke-dasharray="2.2 5.5" stroke-dashoffset="4.14"/>
<path d="M49.50,256.50 L50.31,256.50 L51.13,256.50 L51.94,256.50 L52.75,256.50 L53.57,256.49 L54.38,256.49 L55.20,256.49 L56.01,256.48 L56.82,256.48 L57.64,256.48 L58.45,256.47 L59.26,256.46 L60.08,256.46 L60.89,256.45 L61.70,256.44 L62.52,256.44 L63.33,256.43 L64.15,256.42 L64.96,256.41 L65.77,256.40 L66.59,256.39 L67.40,256.38 L68.21,256.37 L69.03,256.36 L69.84,256.35 L70.65,256.33 L71.47,256.32 L72.28,256.31 L73.10,256.29 L73.91,256.28 L74.72,256.26 L75.54,256.25 L76.35,256.23 L77.16,256.22 L77.98,256.20 L78.79,256.18 L79.60,256.16 L80.42,256.14 L81.23,256.13 L82.05,256.11 L82.86,256.09 L83.67,256.07 L84.49,256.04 L85.30,256.02 L86.11,256.00 L86.93,255.98 L87.74,255.96 L88.55,255.93 L89.37,255.91 L90.18,255.88 L90.99,255.86 L91.81,255.83 L92.62,255.81 L93.44,255.78 L94.25,255.75 L95.06,255.73 L95.88,255.70 L96.69,255.67 L97.50,255.64 L98.32,255.61 L99.13,255.58 L99.94,255.55 L100.76,255.52 L101.57,255.49 L102.39,255.46 L103.20,255.42 L104.01,255.39 L104.83,255.36 L105.64,255.32 L106.45,255.29 L107.27,255.26 L108.08,255.22 L108.89,255.18 L109.71,255.15 L110.52,255.11 L111.34,255.07 L112.15,255.04 L112.96,255.00 L113.78,254.96 L114.59,254.92 L115.40,254.88 L116.22,254.84 L117.03,254.80 L117.84,254.76 L118.66,254.71 L119.47,254.67 L120.29,254.63 L121.10,254.58 L121.91,254.54 L122.73,254.50 L123.54,254.45 L124.35,254.41 L125.17,254.36 L125.98,254.31 L126.79,254.27 L127.61,254.22 L128.42,254.17 L129.24,254.12 L130.05,254.07 L130.86,254.02 L131.68,253.97 L132.49,253.92 L133.30,253.87 L134.12,253.82 L134.93,253.77 L135.74,253.71 L136.56,253.66 L137.37,253.61 L138.19,253.55 L139.00,253.50 L139.81,253.44 L140.63,253.39 L141.44,253.33 L142.25,253.27 L143.07,253.22 L143.88,253.16 L144.69,253.10 L145.51,253.04 L146.32,252.98 L147.14,252.92 L147.95,252.86 L148.76,252.80 L149.58,252.74 L150.39,252.68 L151.20,252.62 L152.02,252.55 L152.83,252.49 L153.64,252.43 L154.46,252.36 L155.27,252.30 L156.09,252.23 L156.90,252.16 L157.71,252.10 L158.53,252.03 L159.34,251.96 L160.15,251.89 L160.97,251.83 L161.78,251.76 L162.59,251.69 L163.41,251.62 L164.22,251.55 L165.04,251.47 L165.85,251.40 L166.66,251.33 L167.48,251.26 L168.29,251.18 L169.10,251.11 L169.92,251.03 L170.73,250.96 L171.54,250.88 L172.36,250.81 L173.17,250.73 L173.98,250.65 L174.80,250.58 L175.61,250.50 L176.43,250.42 L177.24,250.34 L178.05,250.26 L178.87,250.18 L179.68,250.10 L180.49,250.02 L181.31,249.94 L182.12,249.85 L182.93,249.77 L183.75,249.69 L184.56,249.60 L185.38,249.52 L186.19,249.43 L187.00,249.35 L187.82,249.26 L188.63,249.17 L189.44,249.09 L190.26,249.00 L191.07,248.91 L191.88,248.82 L192.70,248.73 L193.51,248.64 L194.33,248.55 L195.14,248.46 L195.95,248.37 L196.77,248.27 L197.58,248.18 L198.39,248.09 L199.21,247.99 L200.02,247.90 L200.83,247.80 L201.65,247.71 L202.46,247.61 L203.28,247.52 L204.09,247.42 L204.90,247.32 L205.72,247.22 L206.53,247.12 L207.34,247.02 L208.16,246.92 L208.97,246.82 L209.78,246.72 L210.60,246.62 L211.41,246.52 L212.23,246.41 L213.04,246.31 L213.85,246.21 L214.67,246.10 L215.48,246.00 L216.29,245.89 L217.11,245.79 L217.92,245.68 L218.73,245.57 L219.55,245.46 L220.36,245.36 L221.18,245.25 L221.99,245.14 L222.80,245.03 L223.62,244.92 L224.43,244.80 L225.24,244.69 L226.06,244.58 L226.87,244.47 L227.68,244.35 L228.50,244.24 L229.31,244.12 L230.13,244.01 L230.94,243.89 L231.75,243.78 L232.57,243.66 L233.38,243.54 L234.19,243.42 L235.01,243.31 L235.82,243.19 L236.63,243.07 L237.45,242.95 L238.26,242.82 L239.08,242.70 L239.89,242.58 L240.70,242.46 L241.52,242.33 L242.33,242.21 L243.14,242.08 L243.96,241.96 L244.77,241.83 L245.58,241.71 L246.40,241.58 L247.21,241.45 L248.03,241.32 L248.84,241.20 L249.65,241.07 L250.47,240.94 L251.28,240.81 L252.09,240.68 L252.91,240.54 L253.72,240.41 L254.53,240.28 L255.35,240.14 L256.16,240.01 L256.97,239.88 L257.79,239.74 L258.60,239.60 L259.42,239.47 L260.23,239.33 L261.04,239.19 L261.86,239.05 L262.67,238.92 L263.48,238.78 L264.30,238.64 L265.11,238.50 L265.92,238.35 L266.74,238.21 L267.55,238.07 L268.37,237.93 L269.18,237.78 L269.99,237.64 L270.81,237.49 L271.62,237.35 L272.43,237.20 L273.25,237.05 L274.06,236.91 L274.87,236.76 L275.69,236.61 L276.50,236.46 L277.32,236.31 L278.13,236.16 L278.94,236.01 L279.76,235.86 L280.57,235.70 L281.38,235.55 L282.20,235.40 L283.01,235.24 L283.82,235.09 L284.64,234.93 L285.45,234.77 L286.27,234.62 L287.08,234.46 L287.89,234.30 L288.71,234.14 L289.52,233.98 L290.33,233.82 L291.15,233.66 L291.96,233.50 L292.77,233.34 L293.59,233.18 L294.40,233.01 L295.22,232.85 L296.03,232.69 L296.84,232.52 L297.66,232.35 L298.47,232.19 L299.28,232.02 L300.10,231.85 L300.91,231.68 L301.72,231.51 L302.54,231.34 L303.35,231.17 L304.17,231.00 L304.98,230.83 L305.79,230.66 L306.61,230.49 L307.42,230.31 L308.23,230.14 L309.05,229.96 L309.86,229.79 L310.67,229.61 L311.49,229.43 L312.30,229.26 L313.12,229.08 L313.93,228.90 L314.74,228.72 L315.56,228.54 L316.37,228.36 L317.18,228.18 L318.00,227.99 L318.81,227.81 L319.62,227.63 L320.44,227.44 L321.25,227.26 L322.07,227.07 L322.88,226.89 L323.69,226.70 L324.51,226.51 L325.32,226.32 L326.13,226.13 L326.95,225.94 L327.76,225.75 L328.57,225.56 L329.39,225.37 L330.20,225.18 L331.02,224.98 L331.83,224.79 L332.64,224.60 L333.46,224.40 L334.27,224.20 L335.08,224.01 L335.90,223.81 L336.71,223.61 L337.52,223.41 L338.34,223.21 L339.15,223.01 L339.96,222.81 L340.78,222.61 L341.59,222.41 L342.41,222.21 L343.22,222.00 L344.03,221.80 L344.85,221.59 L345.66,221.39 L346.47,221.18 L347.29,220.97 L348.10,220.76 L348.91,220.56 L349.73,220.35 L350.54,220.14 L351.36,219.93 L352.17,219.71 L352.98,219.50 L353.80,219.29 L354.61,219.07 L355.42,218.86 L356.24,218.65 L357.05,218.43 L357.86,218.21 L358.68,218.00 L359.49,217.78 L360.31,217.56 L361.12,217.34 L361.93,217.12 L362.75,216.90 L363.56,216.68 L364.37,216.45 L365.19,216.23 L366.00,216.01 L366.81,215.78 L367.63,215.56 L368.44,215.33 L369.26,215.10 L370.07,214.87 L370.88,214.65 L371.70,214.42 L372.51,214.19 L373.32,213.96 L374.14,213.72 L374.95,213.49 L375.76,213.26 L376.58,213.03 L377.39,212.79 L378.21,212.56 L379.02,212.32 L379.83,212.08 L380.65,211.85 L381.46,211.61 L382.27,211.37 L383.09,211.13 L383.90,210.89 L384.71,210.65 L385.53,210.40 L386.34,210.16 L387.16,209.92 L387.97,209.67 L388.78,209.43 L389.60,209.18 L390.41,208.94 L391.22,208.69 L392.04,208.44 L392.85,208.19 L393.66,207.94 L394.48,207.69 L395.29,207.44 L396.11,207.19 L396.92,206.93 L397.73,206.68 L398.55,206.42 L399.36,206.17 L400.17,205.91 L400.99,205.66 L401.80,205.40 L402.61,205.14 L403.43,204.88 L404.24,204.62 L405.06,204.36 L405.87,204.10 L406.68,203.83 L407.50,203.57 L408.31,203.31 L409.12,203.04 L409.94,202.78 L410.75,202.51 L411.56,202.24 L412.38,201.97 L413.19,201.70 L414.01,201.43 L414.82,201.16 L415.63,200.89 L416.45,200.62 L417.26,200.35 L418.07,200.07 L418.89,199.80 L419.70,199.52 L420.51,199.24 L421.33,198.97 L422.14,198.69 L422.95,198.41 L423.77,198.13 L424.58,197.85 L425.40,197.57 L426.21,197.28 L427.02,197.00 L427.84,196.72 L428.65,196.43 L429.46,196.15 L430.28,195.86 L431.09,195.57 L431.90,195.28 L432.72,194.99 L433.53,194.70 L434.35,194.41 L435.16,194.12 L435.97,193.83 L436.79,193.54 L437.60,193.24 L438.41,192.95 L439.23,192.65 L440.04,192.35 L440.85,192.05 L441.67,191.76 L442.48,191.46 L443.30,191.16 L444.11,190.85 L444.92,190.55 L445.74,190.25 L446.55,189.94 L447.36,189.64 L448.18,189.33 L448.99,189.03 L449.80,188.72 L450.62,188.41 L451.43,188.10 L452.25,187.79 L453.06,187.48 L453.87,187.17 L454.69,186.86 L455.50,186.54" stroke="#0000ff" stroke-dasharray="8.2 4.5" stroke-dashoffset="0.00"/>
<path d="M49.50,256.50 L50.31,256.50 L51.13,256.50 L51.94,256.50 L52.75,256.50 L53.57,256.49 L54.38,256.49 L55.20,256.49 L56.01,256.48 L56.82,256.48 L57.64,256.48 L58.45,256.47 L59.26,256.46 L60.08,256.46 L60.89,256.45 L61.70,256.44 L62.52,256.44 L63.33,256.43 L64.15,256.42 L64.96,256.41 L65.77,256.40 L66.59,256.39 L67.40,256.38 L68.21,256.37 L69.03,256.36 L69.84,256.35 L70.65,256.33 L71.47,256.32 L72.28,256.31 L73.10,256.29 L73.91,256.28 L74.72,256.26 L75.54,256.25 L76.35,256.23 L77.16,256.22 L77.98,256.20 L78.79,256.18 L79.60,256.16 L80.42,256.14 L81.23,256.13 L82.05,256.11 L82.86,256.09 L83.67,256.07 L84.49,256.04 L85.30,256.02 L86.11,256.00 L86.93,255.98 L87.74,255.96 L88.55,255.93 L89.37,255.91 L90.18,255.88 L90.99,255.86 L91.81,255.83 L92.62,255.81 L93.44,255.78 L94.25,255.75 L95.06,255.73 L95.88,255.70 L96.69,255.67 L97.50,255.64 L98.32,255.61 L99.13,255.58 L99.94,255.55 L100.76,255.52 L101.57,255.49 L102.39,255.46 L103.20,255.43 L104.01,255.39 L104.83,255.36 L105.64,255.33 L106.45,255.29 L107.27,255.26 L108.08,255.22 L108.89,255.19 L109.71,255.15 L110.52,255.11 L111.34,255.08 L112.15,255.04 L112.96,255.00 L113.78,254.96 L114.59,254.92 L115.40,254.88 L116.22,254.84 L117.03,254.80 L117.84,254.76 L118.66,254.72 L119.47,254.67 L120.29,254.63 L121.10,254.59 L121.91,254.54 L122.73,254.50 L123.54,254.45 L124.35,254.41 L125.17,254.36 L125.98,254.32 L126.79,254.27 L127.61,254.22 L128.42,254.17 L129.24,254.13 L130.05,254.08 L130.86,254.03 L131.68,253.98 L132.49,253.93 L133.30,253.88 L134.12,253.83 L134.93,253.77 L135.74,253.72 L136.56,253.67 L137.37,253.61 L138.19,253.56 L139.00,253.51 L139.81,253.45 L140.63,253.40 L141.44,253.34 L142.25,253.28 L143.07,253.23 L143.88,253.17 L144.69,253.11 L145.51,253.05 L146.32,252.99 L147.14,252.93 L147.95,252.87 L148.76,252.81 L149.58,252.75 L150.39,252.69 L151.20,252.63 L152.02,252.56 L152.83,252.50 L153.64,252.44 L154.46,252.37 L155.27,252.31 L156.09,252.24 L156.90,252.18 L157.71,252.11 L158.53,252.04 L159.34,251.98 L160.15,251.91 L160.97,251.84 L161.78,251.77 L162.59,251.70 L163.41,251.63 L164.22,251.56 L165.04,251.49 L165.85,251.42 L166.66,251.35 L167.48,251.27 L168.29,251.20 L169.10,251.13 L169.92,251.05 L170.73,250.98 L171.54,250.90 L172.36,250.83 L173.17,250.75 L173.98,250.67 L174.80,250.60 L175.61,250.52 L176.43,250.44 L177.24,250.36 L178.05,250.28 L178.87,250.20 L179.68,250.12 L180.49,250.04 L181.31,249.96 L182.12,249.88 L182.93,249.79 L183.75,249.71 L184.56,249.63 L185.38,249.54 L186.19,249.46 L187.00,249.37 L187.82,249.29 L188.63,249.20 L189.44,249.11 L190.26,249.02 L191.07,248.94 L191.88,248.85 L192.70,248.76 L193.51,248.67 L194.33,248.58 L195.14,248.49 L195.95,248.40 L196.77,248.31 L197.58,248.21 L198.39,248.12 L199.21,248.03 L200.02,247.93 L200.83,247.84 L201.65,247.74 L202.46,247.65 L203.28,247.55 L204.09,247.45 L204.90,247.36 L205.72,247.26 L206.53,247.16 L207.34,247.06 L208.16,246.96 L208.97,246.86 L209.78,246.76 L210.60,246.66 L211.41,246.56 L212.23,246.46 L213.04,246.35 L213.85,246.25 L214.67,246.15 L215.48,246.04 L216.29,245.94 L217.11,245.83 L217.92,245.73 L218.73,245.62 L219.55,245.51 L220.36,245.40 L221.18,245.30 L221.99,245.19 L222.80,245.08 L223.62,244.97 L224.43,244.86 L225.24,244.75 L226.06,244.63 L226.87,244.52 L227.68,244.41 L228.50,244.30 L229.31,244.18 L230.13,244.07 L230.94,243.95 L231.75,243.84 L232.57,243.72 L233.38,243.60 L234.19,243.49 L235.01,243.37 L235.82,243.25 L236.63,243.13 L237.45,243.01 L238.26,242.89 L239.08,242.77 L239.89,242.65 L240.70,242.53 L241.52,242.40 L242.33,242.28 L243.14,242.16 L243.96,242.03 L244.77,241.91 L245.58,241.78 L246.40,241.66 L247.21,241.53 L248.03,241.40 L248.84,241.27 L249.65,241.15 L250.47,241.02 L251.28,240.89 L252.09,240.76 L252.91,240.63 L253.72,240.50 L254.53,240.36 L255.35,240.23 L256.16,240.10 L256.97,239.96 L257.79,239.83 L258.60,239.70 L259.42,239.56 L260.23,239.42 L261.04,239.29 L261.86,239.15 L262.67,239.01 L263.48,238.87 L264.30,238.73 L265.11,238.59 L265.92,238.45 L266.74,238.31 L267.55,238.17 L268.37,238.03 L269.18,237.89 L269.99,237.74 L270.81,237.60 L271.62,237.46 L272.43,237.31 L273.25,237.17 L274.06,237.02 L274.87,236.87 L275.69,236.72 L276.50,236.58 L277.32,236.43 L278.13,236.28 L278.94,236.13 L279.76,235.98 L280.57,235.83 L281.38,235.67 L282.20,235.52 L283.01,235.37 L283.82,235.22 L284.64,235.06 L285.45,234.91 L286.27,234.75 L287.08,234.59 L287.89,234.44 L288.71,234.28 L289.52,234.12 L290.33,233.96 L291.15,233.80 L291.96,233.64 L292.77,233.48 L293.59,233.32 L294.40,233.16 L295.22,233.00 L296.03,232.84 L296.84,232.67 L297.66,232.51 L298.47,232.34 L299.28,232.18 L300.10,232.01 L300.91,231.84 L301.72,231.68 L302.54,231.51 L303.35,231.34 L304.17,231.17 L304.98,231.00 L305.79,230.83 L306.61,230.66 L307.42,230.49 L308.23,230.31 L309.05,230.14 L309.86,229.97 L310.67,229.79 L311.49,229.62 L312.30,229.44 L313.12,229.26 L313.93,229.09 L314.74,228.91 L315.56,228.73 L316.37,228.55 L317.18,228.37 L318.00,228.19 L318.81,228.01 L319.62,227.83 L320.44,227.65 L321.25,227.46 L322.07,227.28 L322.88,227.09 L323.69,226.91 L324.51,226.72 L325.32,226.54 L326.13,226.35 L326.95,226.16 L327.76,225.97 L328.57,225.78 L329.39,225.59 L330.20,225.40 L331.02,225.21 L331.83,225.02 L332.64,224.83 L333.46,224.63 L334.27,224.44 L335.08,224.25 L335.90,224.05 L336.71,223.85 L337.52,223.66 L338.34,223.46 L339.15,223.26 L339.96,223.06 L340.78,222.86 L341.59,222.66 L342.41,222.46 L343.22,222.26 L344.03,222.06 L344.85,221.86 L345.66,221.65 L346.47,221.45 L347.29,221.24 L348.10,221.04 L348.91,220.83 L349.73,220.62 L350.54,220.42 L351.36,220.21 L352.17,220.00 L352.98,219.79 L353.80,219.58 L354.61,219.37 L355.42,219.16 L356.24,218.94 L357.05,218.73 L357.86,218.52 L358.68,218.30 L359.49,218.09 L360.31,217.87 L361.12,217.65 L361.93,217.43 L362.75,217.22 L363.56,217.00 L364.37,216.78 L365.19,216.56 L366.00,216.33 L366.81,216.11 L367.63,215.89 L368.44,215.67 L369.26,215.44 L370.07,215.22 L370.88,214.99 L371.70,214.76 L372.51,214.54 L373.32,214.31 L374.14,214.08 L374.95,213.85 L375.76,213.62 L376.58,213.39 L377.39,213.16 L378.21,212.93 L379.02,212.69 L379.83,212.46 L380.65,212.23 L381.46,211.99 L382.27,211.75 L383.09,211.52 L383.90,211.28 L384.71,211.04 L385.53,210.80 L386.34,210.56 L387.16,210.32 L387.97,210.08 L388.78,209.84 L389.60,209.60 L390.41,209.35 L391.22,209.11 L392.04,208.86 L392.85,208.62 L393.66,208.37 L394.48,208.12 L395.29,207.87 L396.11,207.62 L396.92,207.37 L397.73,207.12 L398.55,206.87 L399.36,206.62 L400.17,206.37 L400.99,206.11 L401.80,205.86 L402.61,205.60 L403.43,205.35 L404.24,205.09 L405.06,204.83 L405.87,204.58 L406.68,204.32 L407.50,204.06 L408.31,203.80 L409.12,203.53 L409.94,203.27 L410.75,203.01 L411.56,202.74 L412.38,202.48 L413.19,202.21 L414.01,201.95 L414.82,201.68 L415.63,201.41 L416.45,201.14 L417.26,200.87 L418.07,200.60 L418.89,200.33 L419.70,200.06 L420.51,199.79 L421.33,199.51 L422.14,199.24 L422.95,198.96 L423.77,198.69 L424.58,198.41 L425.40,198.13 L426.21,197.86 L427.02,197.58 L427.84,197.30 L428.65,197.02 L429.46,196.73 L430.28,196.45 L431.09,196.17 L431.90,195.88 L432.72,195.60 L433.53,195.31 L434.35,195.02 L435.16,194.74 L435.97,194.45 L436.79,194.16 L437.60,193.87 L438.41,193.58 L439.23,193.29 L440.04,192.99 L440.85,192.70 L441.67,192.41 L442.48,192.11 L443.30,191.81 L444.11,191.52 L444.92,191.22 L445.74,190.92 L446.55,190.62 L447.36,190.32 L448.18,190.02 L448.99,189.72 L449.80,189.41 L450.62,189.11 L451.43,188.81 L452.25,188.50 L453.06,188.19 L453.87,187.89 L454.69,187.58 L455.50,187.27" stroke="#0000ff"/>
<path d="M49.50,256.50 L50.31,256.50 L51.13,256.50 L51.94,256.49 L52.75,256.48 L53.57,256.47 L54.38,256.46 L55.20,256.45 L56.01,256.43 L56.82,256.42 L57.64,256.40 L58.45,256.37 L59.26,256.35 L60.08,256.32 L60.89,256.30 L61.70,256.27 L62.52,256.23 L63.33,256.20 L64.15,256.16 L64.96,256.12 L65.77,256.08 L66.59,256.04 L67.40,256.00 L68.21,255.95 L69.03,255.90 L69.84,255.85 L70.65,255.80 L71.47,255.74 L72.28,255.68 L73.10,255.63 L73.91,255.56 L74.72,255.50 L75.54,255.43 L76.35,255.37 L77.16,255.30 L77.98,255.23 L78.79,255.15 L79.60,255.08 L80.42,255.00 L81.23,254.92 L82.05,254.84 L82.86,254.75 L83.67,254.66 L84.49,254.58 L85.30,254.49 L86.11,254.39 L86.93,254.30 L87.74,254.20 L88.55,254.10 L89.37,254.00 L90.18,253.90 L90.99,253.79 L91.81,253.69 L92.62,253.58 L93.44,253.47 L94.25,253.35 L95.06,253.24 L95.88,253.12 L96.69,253.00 L97.50,252.88 L98.32,252.75 L99.13,252.63 L99.94,252.50 L100.76,252.37 L101.57,252.24 L102.39,252.10 L103.20,251.97 L104.01,251.83 L104.83,251.69 L105.64,251.54 L106.45,251.40 L107.27,251.25 L108.08,251.10 L108.89,250.95 L109.71,250.80 L110.52,250.64 L111.34,250.49 L112.15,250.33 L112.96,250.17 L113.78,250.00 L114.59,249.84 L115.40,249.67 L116.22,249.50 L117.03,249.33 L117.84,249.15 L118.66,248.98 L119.47,248.80 L120.29,248.62 L121.10,248.44 L121.91,248.25 L122.73,248.07 L123.54,247.88 L124.35,247.69 L125.17,247.49 L125.98,247.30 L126.79,247.10 L127.61,246.90 L128.42,246.70 L129.24,246.50 L130.05,246.29 L130.86,246.08 L131.68,245.87 L132.49,245.66 L133.30,245.45 L134.12,245.23 L134.93,245.02 L135.74,244.80 L136.56,244.57 L137.37,244.35 L138.19,244.12 L139.00,243.89 L139.81,243.66 L140.63,243.43 L141.44,243.20 L142.25,242.96 L143.07,242.72 L143.88,242.48 L144.69,242.23 L145.51,241.99 L146.32,241.74 L147.14,241.49 L147.95,241.24 L148.76,240.99 L149.58,240.73 L150.39,240.47 L151.20,240.21 L152.02,239.95 L152.83,239.69 L153.64,239.42 L154.46,239.15 L155.27,238.88 L156.09,238.61 L156.90,238.33 L157.71,238.06 L158.53,237.78 L159.34,237.50 L160.15,237.21 L160.97,236.93 L161.78,236.64 L162.59,236.35 L163.41,236.06 L164.22,235.76 L165.04,235.47 L165.85,235.17 L166.66,234.87 L167.48,234.57 L168.29,234.26 L169.10,233.96 L169.92,233.65 L170.73,233.34 L171.54,233.03 L172.36,232.71 L173.17,232.39 L173.98,232.07 L174.80,231.75 L175.61,231.43 L176.43,231.10 L177.24,230.78 L178.05,230.45 L178.87,230.11 L179.68,229.78 L180.49,229.44 L181.31,229.10 L182.12,228.76 L182.93,228.42 L183.75,228.08 L184.56,227.73 L185.38,227.38 L186.19,227.03 L187.00,226.68 L187.82,226.32 L188.63,225.96 L189.44,225.60 L190.26,225.24 L191.07,224.88 L191.88,224.51 L192.70,224.14 L193.51,223.77 L194.33,223.40 L195.14,223.03 L195.95,222.65 L196.77,222.27 L197.58,221.89 L198.39,221.51 L199.21,221.12 L200.02,220.74 L200.83,220.35 L201.65,219.95 L202.46,219.56 L203.28,219.16 L204.09,218.77 L204.90,218.37 L205.72,217.96 L206.53,217.56 L207.34,217.15 L208.16,216.74 L208.97,216.33 L209.78,215.92 L210.60,215.50 L211.41,215.09 L212.23,214.67 L213.04,214.25 L213.85,213.82 L214.67,213.40 L215.48,212.97 L216.29,212.54 L217.11,212.11 L217.92,211.67 L218.73,211.23 L219.55,210.79 L220.36,210.35 L221.18,209.91 L221.99,209.47 L222.80,209.02 L223.62,208.57 L224.43,208.12 L225.24,207.66 L226.06,207.21 L226.87,206.75 L227.68,206.29 L228.50,205.82 L229.31,205.36 L230.13,204.89 L230.94,204.42 L231.75,203.95 L232.57,203.48 L233.38,203.00 L234.19,202.53 L235.01,202.05 L235.82,201.56 L236.63,201.08 L237.45,200.59 L238.26,200.10 L239.08,199.61 L239.89,199.12 L240.70,198.63 L241.52,198.13 L242.33,197.63 L243.14,197.13 L243.96,196.62 L244.77,196.12 L245.58,195.61 L246.40,195.10 L247.21,194.59 L248.03,194.07 L248.84,193.55 L249.65,193.04 L250.47,192.51 L251.28,191.99 L252.09,191.46 L252.91,190.94 L253.72,190.41 L254.53,189.87 L255.35,189.34 L256.16,188.80 L256.97,188.26 L257.79,187.72 L258.60,187.18 L259.42,186.64 L260.23,186.09 L261.04,185.54 L261.86,184.99 L262.67,184.43 L263.48,183.88 L264.30,183.32 L265.11,182.76 L265.92,182.19 L266.74,181.63 L267.55,181.06 L268.37,180.49 L269.18,179.92 L269.99,179.35 L270.81,178.77 L271.62,178.19 L272.43,177.61 L273.25,177.03 L274.06,176.44 L274.87,175.86 L275.69,175.27 L276.50,174.67 L277.32,174.08 L278.13,173.48 L278.94,172.89 L279.76,172.29 L280.57,171.68 L281.38,171.08 L282.20,170.47 L283.01,169.86 L283.82,169.25 L284.64,168.64 L285.45,168.02 L286.27,167.40 L287.08,166.78 L287.89,166.16 L288.71,165.53 L289.52,164.91 L290.33,164.28 L291.15,163.65 L291.96,163.01 L292.77,162.38 L293.59,161.74 L294.40,161.10 L295.22,160.45 L296.03,159.81 L296.84,159.16 L297.66,158.51 L298.47,157.86 L299.28,157.21 L300.10,156.55 L300.91,155.89 L301.72,155.23 L302.54,154.57 L303.35,153.90 L304.17,153.24 L304.98,152.57 L305.79,151.89 L306.61,151.22 L307.42,150.54 L308.23,149.87 L309.05,149.18 L309.86,148.50 L310.67,147.82 L311.49,147.13 L312.30,146.44 L313.12,145.75 L313.93,145.05 L314.74,144.35 L315.56,143.66 L316.37,142.95 L317.18,142.25 L318.00,141.54 L318.81,140.84 L319.62,140.13 L320.44,139.41 L321.25,138.70 L322.07,137.98 L322.88,137.26 L323.69,136.54 L324.51,135.82 L325.32,135.09 L326.13,134.36 L326.95,133.63 L327.76,132.90 L328.57,132.16 L329.39,131.43 L330.20,130.69 L331.02,129.94 L331.83,129.20 L332.64,128.45 L333.46,127.70 L334.27,126.95 L335.08,126.20 L335.90,125.44 L336.71,124.68 L337.52,123.92 L338.34,123.16 L339.15,122.40 L339.96,121.63 L340.78,120.86 L341.59,120.09 L342.41,119.31 L343.22,118.54 L344.03,117.76 L344.85,116.98 L345.66,116.19 L346.47,115.41 L347.29,114.62 L348.10,113.83 L348.91,113.04 L349.73,112.24 L350.54,111.44 L351.36,110.64 L352.17,109.84 L352.98,109.04 L353.80,108.23 L354.61,107.42 L355.42,106.61 L356.24,105.80 L357.05,104.98 L357.86,104.16 L358.68,103.34 L359.49,102.52 L360.31,101.70 L361.12,100.87 L361.93,100.04 L362.75,99.21 L363.56,98.37 L364.37,97.53 L365.19,96.70 L366.00,95.85 L366.81,95.01 L367.63,94.16 L368.44,93.32 L369.26,92.46 L370.07,91.61 L370.88,90.76 L371.70,89.90 L372.51,89.04 L373.32,88.17 L374.14,87.31 L374.95,86.44 L375.76,85.57 L376.58,84.70 L377.39,83.83 L378.21,82.95 L379.02,82.07 L379.83,81.19 L380.65,80.31 L381.46,79.42 L382.27,78.53 L383.09,77.64 L383.90,76.75 L384.71,75.85 L385.53,74.95 L386.34,74.05 L387.16,73.15 L387.97,72.24 L388.78,71.34 L389.60,70.43 L390.41,69.52 L391.22,68.60 L392.04,67.68 L392.85,66.76 L393.66,65.84 L394.48,64.92 L395.29,63.99 L396.11,63.06 L396.92,62.13 L397.73,61.20 L398.55,60.26 L399.36,59.32 L400.17,58.38 L400.99,57.44 L401.80,56.49 L402.61,55.55 L403.43,54.60 L404.24,53.64 L405.06,52.69 L405.87,51.73 L406.68,50.77 L407.50,49.81 L408.31,48.84 L409.12,47.87 L409.94,46.90 L410.75,45.93 L411.56,44.96 L412.38,43.98 L413.19,43.00 L414.01,42.02 L414.82,41.04 L415.63,40.05 L416.45,39.06 L417.26,38.07 L418.07,37.07 L418.89,36.08 L419.70,35.08 L420.51,34.08 L421.33,33.07 L422.14,32.07 L422.95,31.06 L423.77,30.05 L424.58,29.03 L425.40,28.02 L426.21,27.00 L427.02,25.98 L427.84,24.96 L428.65,23.93 L429.46,22.90 L430.28,21.87 L431.09,20.84 L431.90,19.80 L432.72,18.77 L433.53,17.73 L434.35,16.68 L435.16,15.64 L435.97,14.59 L436.79,13.54 L437.60,12.49 L438.41,11.43 L439.23,10.37 L440.04,9.31 L440.85,8.25 L441.67,7.19 L442.48,6.12 L443.30,5.05 L444.11,3.98" stroke="#ff0000" stroke-dasharray="2.2 5.5" stroke-dashoffset="5.05"/>
<path d="M49.50,256.50 L50.31,256.50 L51.13,256.50 L51.94,256.49 L52.75,256.48 L53.57,256.47 L54.38,256.46 L55.20,256.45 L56.01,256.43 L56.82,256.41 L57.64,256.39 L58.45,256.37 L59.26,256.35 L60.08,256.32 L60.89,256.29 L61.70,256.26 L62.52,256.23 L63.33,256.20 L64.15,256.16 L64.96,256.12 L65.77,256.08 L66.59,256.04 L67.40,255.99 L68.21,255.94 L69.03,255.89 L69.84,255.84 L70.65,255.79 L71.47,255.73 L72.28,255.68 L73.10,255.62 L73.91,255.56 L74.72,255.49 L75.54,255.43 L76.35,255.36 L77.16,255.29 L77.98,255.22 L78.79,255.14 L79.60,255.07 L80.42,254.99 L81.23,254.91 L82.05,254.83 L82.86,254.74 L83.67,254.66 L84.49,254.57 L85.30,254.48 L86.11,254.39 L86.93,254.29 L87.74,254.20 L88.55,254.10 L89.37,254.00 L90.18,253.90 L90.99,253.79 L91.81,253.69 L92.62,253.58 L93.44,253.47 L94.25,253.36 L95.06,253.24 L95.88,253.13 L96.69,253.01 L97.50,252.89 L98.32,252.77 L99.13,252.64 L99.94,252.52 L100.76,252.39 L101.57,252.26 L102.39,252.13 L103.20,252.00 L104.01,251.86 L104.83,251.72 L105.64,251.58 L106.45,251.44 L107.27,251.30 L108.08,251.15 L108.89,251.01 L109.71,250.86 L110.52,250.70 L111.34,250.55 L112.15,250.40 L112.96,250.24 L113.78,250.08 L114.59,249.92 L115.40,249.76 L116.22,249.59 L117.03,249.42 L117.84,249.26 L118.66,249.08 L119.47,248.91 L120.29,248.74 L121.10,248.56 L121.91,248.38 L122.73,248.20 L123.54,248.02 L124.35,247.84 L125.17,247.65 L125.98,247.46 L126.79,247.27 L127.61,247.08 L128.42,246.89 L129.24,246.69 L130.05,246.49 L130.86,246.29 L131.68,246.09 L132.49,245.89 L133.30,245.69 L134.12,245.48 L134.93,245.27 L135.74,245.06 L136.56,244.85 L137.37,244.63 L138.19,244.42 L139.00,244.20 L139.81,243.98 L140.63,243.76 L141.44,243.53 L142.25,243.31 L143.07,243.08 L143.88,242.85 L144.69,242.62 L145.51,242.38 L146.32,242.15 L147.14,241.91 L147.95,241.67 L148.76,241.43 L149.58,241.19 L150.39,240.95 L151.20,240.70 L152.02,240.45 L152.83,240.20 L153.64,239.95 L154.46,239.70 L155.27,239.44 L156.09,239.18 L156.90,238.92 L157.71,238.66 L158.53,238.40 L159.34,238.14 L160.15,237.87 L160.97,237.60 L161.78,237.33 L162.59,237.06 L163.41,236.78 L164.22,236.51 L165.04,236.23 L165.85,235.95 L166.66,235.67 L167.48,235.39 L168.29,235.10 L169.10,234.82 L169.92,234.53 L170.73,234.24 L171.54,233.94 L172.36,233.65 L173.17,233.35 L173.98,233.06 L174.80,232.76 L175.61,232.46 L176.43,232.15 L177.24,231.85 L178.05,231.54 L178.87,231.23 L179.68,230.92 L180.49,230.61 L181.31,230.30 L182.12,229.98 L182.93,229.66 L183.75,229.34 L184.56,229.02 L185.38,228.70 L186.19,228.37 L187.00,228.05 L187.82,227.72 L188.63,227.39 L189.44,227.06 L190.26,226.72 L191.07,226.39 L191.88,226.05 L192.70,225.71 L193.51,225.37 L194.33,225.03 L195.14,224.68 L195.95,224.34 L196.77,223.99 L197.58,223.64 L198.39,223.29 L199.21,222.93 L200.02,222.58 L200.83,222.22 L201.65,221.86 L202.46,221.50 L203.28,221.14 L204.09,220.78 L204.90,220.41 L205.72,220.04 L206.53,219.67 L207.34,219.30 L208.16,218.93 L208.97,218.55 L209.78,218.18 L210.60,217.80 L211.41,217.42 L212.23,217.04 L213.04,216.65 L213.85,216.27 L214.67,215.88 L215.48,215.49 L216.29,215.10 L217.11,214.71 L217.92,214.32 L218.73,213.92 L219.55,213.52 L220.36,213.12 L221.18,212.72 L221.99,212.32 L222.80,211.91 L223.62,211.51 L224.43,211.10 L225.24,210.69 L226.06,210.28 L226.87,209.86 L227.68,209.45 L228.50,209.03 L229.31,208.61 L230.13,208.19 L230.94,207.77 L231.75,207.34 L232.57,206.92 L233.38,206.49 L234.19,206.06 L235.01,205.63 L235.82,205.20 L236.63,204.76 L237.45,204.33 L238.26,203.89 L239.08,203.45 L239.89,203.01 L240.70,202.56 L241.52,202.12 L242.33,201.67 L243.14,201.22 L243.96,200.77 L244.77,200.32 L245.58,199.87 L246.40,199.41 L247.21,198.95 L248.03,198.49 L248.84,198.03 L249.65,197.57 L250.47,197.11 L251.28,196.64 L252.09,196.17 L252.91,195.70 L253.72,195.23 L254.53,194.76 L255.35,194.28 L256.16,193.81 L256.97,193.33 L257.79,192.85 L258.60,192.37 L259.42,191.88 L260.23,191.40 L261.04,190.91 L261.86,190.42 L262.67,189.93 L263.48,189.44 L264.30,188.95 L265.11,188.45 L265.92,187.95 L266.74,187.45 L267.55,186.95 L268.37,186.45 L269.18,185.94 L269.99,185.44 L270.81,184.93 L271.62,184.42 L272.43,183.91 L273.25,183.40 L274.06,182.88 L274.87,182.36 L275.69,181.85 L276.50,181.33 L277.32,180.80 L278.13,180.28 L278.94,179.76 L279.76,179.23 L280.57,178.70 L281.38,178.17 L282.20,177.64 L283.01,177.10 L283.82,176.57 L284.64,176.03 L285.45,175.49 L286.27,174.95 L287.08,174.41 L287.89,173.86 L288.71,173.32 L289.52,172.77 L290.33,172.22 L291.15,171.67 L291.96,171.11 L292.77,170.56 L293.59,170.00 L294.40,169.44 L295.22,168.88 L296.03,168.32 L296.84,167.76 L297.66,167.19 L298.47,166.62 L299.28,166.06 L300.10,165.48 L300.91,164.91 L301.72,164.34 L302.54,163.76 L303.35,163.18 L304.17,162.61 L304.98,162.02 L305.79,161.44 L306.61,160.86 L307.42,160.27 L308.23,159.68 L309.05,159.09 L309.86,158.50 L310.67,157.91 L311.49,157.31 L312.30,156.71 L313.12,156.12 L313.93,155.52 L314.74,154.91 L315.56,154.31 L316.37,153.70 L317.18,153.10 L318.00,152.49 L318.81,151.88 L319.62,151.26 L320.44,150.65 L321.25,150.03 L322.07,149.41 L322.88,148.79 L323.69,148.17 L324.51,147.55 L325.32,146.92 L326.13,146.30 L326.95,145.67 L327.76,145.04 L328.57,144.41 L329.39,143.77 L330.20,143.14 L331.02,142.50 L331.83,141.86 L332.64,141.22 L333.46,140.58 L334.27,139.93 L335.08,139.29 L335.90,138.64 L336.71,137.99 L337.52,137.34 L338.34,136.68 L339.15,136.03 L339.96,135.37 L340.78,134.71 L341.59,134.05 L342.41,133.39 L343.22,132.72 L344.03,132.06 L344.85,131.39 L345.66,130.72 L346.47,130.05 L347.29,129.38 L348.10,128.70 L348.91,128.03 L349.73,127.35 L350.54,126.67 L351.36,125.99 L352.17,125.30 L352.98,124.62 L353.80,123.93 L354.61,123.24 L355.42,122.55 L356.24,121.86 L357.05,121.16 L357.86,120.47 L358.68,119.77 L359.49,119.07 L360.31,118.37 L361.12,117.66 L361.93,116.96 L362.75,116.25 L363.56,115.54 L364.37,114.83 L365.19,114.12 L366.00,113.40 L366.81,112.69 L367.63,111.97 L368.44,111.25 L369.26,110.53 L370.07,109.80 L370.88,109.08 L371.70,108.35 L372.51,107.62 L373.32,106.89 L374.14,106.16 L374.95,105.43 L375.76,104.69 L376.58,103.95 L377.39,103.21 L378.21,102.47 L379.02,101.73 L379.83,100.98 L380.65,100.23 L381.46,99.48 L382.27,98.73 L383.09,97.98 L383.90,97.23 L384.71,96.47 L385.53,95.71 L386.34,94.95 L387.16,94.19 L387.97,93.43 L388.78,92.66 L389.60,91.89 L390.41,91.12 L391.22,90.35 L392.04,89.58 L392.85,88.80 L393.66,88.03 L394.48,87.25 L395.29,86.47 L396.11,85.69 L396.92,84.90 L397.73,84.12 L398.55,83.33 L399.36,82.54 L400.17,81.75 L400.99,80.95 L401.80,80.16 L402.61,79.36 L403.43,78.56 L404.24,77.76 L405.06,76.96 L405.87,76.15 L406.68,75.34 L407.50,74.54 L408.31,73.73 L409.12,72.91 L409.94,72.10 L410.75,71.28 L411.56,70.46 L412.38,69.64 L413.19,68.82 L414.01,68.00 L414.82,67.17 L415.63,66.35 L416.45,65.52 L417.26,64.68 L418.07,63.85 L418.89,63.02 L419.70,62.18 L420.51,61.34 L421.33,60.50 L422.14,59.66 L422.95,58.81 L423.77,57.96 L424.58,57.12 L425.40,56.26 L426.21,55.41 L427.02,54.56 L427.84,53.70 L428.65,52.84 L429.46,51.98 L430.28,51.12 L431.09,50.26 L431.90,49.39 L432.72,48.52 L433.53,47.65 L434.35,46.78 L435.16,45.91 L435.97,45.03 L436.79,44.15 L437.60,43.27 L438.41,42.39 L439.23,41.51 L440.04,40.62 L440.85,39.73 L441.67,38.84 L442.48,37.95 L443.30,37.06 L444.11,36.16 L444.92,35.27 L445.74,34.37 L446.55,33.46 L447.36,32.56 L448.18,31.66 L448.99,30.75 L449.80,29.84 L450.62,28.93 L451.43,28.01 L452.25,27.10 L453.06,26.18 L453.87,25.26 L454.69,24.34 L455.50,23.42" stroke="#ff0000" stroke-dasharray="8.2 4.5" stroke-dashoffset="12.64"/>
<path d="M49.50,256.50 L50.31,256.50 L51.13,256.50 L51.94,256.49 L52.75,256.48 L53.57,256.47 L54.38,256.46 L55.20,256.45 L56.01,256.43 L56.82,256.41 L57.64,256.39 L58.45,256.37 L59.26,256.35 L60.08,256.32 L60.89,256.29 L61.70,256.26 L62.52,256.23 L63.33,256.20 L64.15,256.16 L64.96,256.12 L65.77,256.08 L66.59,256.04 L67.40,255.99 L68.21,255.94 L69.03,255.89 L69.84,255.84 L70.65,255.79 L71.47,255.74 L72.28,255.68 L73.10,255.62 L73.91,255.56 L74.72,255.49 L75.54,255.43 L76.35,255.36 L77.16,255.29 L77.98,255.22 L78.79,255.15 L79.60,255.07 L80.42,254.99 L81.23,254.91 L82.05,254.83 L82.86,254.75 L83.67,254.66 L84.49,254.57 L85.30,254.48 L86.11,254.39 L86.93,254.30 L87.74,254.20 L88.55,254.11 L89.37,254.01 L90.18,253.90 L90.99,253.80 L91.81,253.69 L92.62,253.59 L93.44,253.48 L94.25,253.37 L95.06,253.25 L95.88,253.14 L96.69,253.02 L97.50,252.90 L98.32,252.78 L99.13,252.65 L99.94,252.53 L100.76,252.40 L101.57,252.27 L102.39,252.14 L103.20,252.01 L104.01,251.87 L104.83,251.74 L105.64,251.60 L106.45,251.46 L107.27,251.31 L108.08,251.17 L108.89,251.02 L109.71,250.87 L110.52,250.72 L111.34,250.57 L112.15,250.42 L112.96,250.26 L113.78,250.10 L114.59,249.94 L115.40,249.78 L116.22,249.61 L117.03,249.45 L117.84,249.28 L118.66,249.11 L119.47,248.94 L120.29,248.77 L121.10,248.59 L121.91,248.41 L122.73,248.23 L123.54,248.05 L124.35,247.87 L125.17,247.68 L125.98,247.50 L126.79,247.31 L127.61,247.12 L128.42,246.93 L129.24,246.73 L130.05,246.54 L130.86,246.34 L131.68,246.14 L132.49,245.94 L133.30,245.73 L134.12,245.53 L134.93,245.32 L135.74,245.11 L136.56,244.90 L137.37,244.69 L138.19,244.47 L139.00,244.25 L139.81,244.04 L140.63,243.82 L141.44,243.59 L142.25,243.37 L143.07,243.14 L143.88,242.92 L144.69,242.69 L145.51,242.45 L146.32,242.22 L147.14,241.99 L147.95,241.75 L148.76,241.51 L149.58,241.27 L150.39,241.03 L151.20,240.78 L152.02,240.54 L152.83,240.29 L153.64,240.04 L154.46,239.79 L155.27,239.53 L156.09,239.28 L156.90,239.02 L157.71,238.76 L158.53,238.50 L159.34,238.24 L160.15,237.97 L160.97,237.71 L161.78,237.44 L162.59,237.17 L163.41,236.90 L164.22,236.63 L165.04,236.35 L165.85,236.07 L166.66,235.80 L167.48,235.52 L168.29,235.23 L169.10,234.95 L169.92,234.66 L170.73,234.38 L171.54,234.09 L172.36,233.79 L173.17,233.50 L173.98,233.21 L174.80,232.91 L175.61,232.61 L176.43,232.31 L177.24,232.01 L178.05,231.71 L178.87,231.40 L179.68,231.09 L180.49,230.78 L181.31,230.47 L182.12,230.16 L182.93,229.85 L183.75,229.53 L184.56,229.21 L185.38,228.89 L186.19,228.57 L187.00,228.25 L187.82,227.92 L188.63,227.60 L189.44,227.27 L190.26,226.94 L191.07,226.61 L191.88,226.27 L192.70,225.94 L193.51,225.60 L194.33,225.26 L195.14,224.92 L195.95,224.58 L196.77,224.24 L197.58,223.89 L198.39,223.54 L199.21,223.19 L200.02,222.84 L200.83,222.49 L201.65,222.13 L202.46,221.78 L203.28,221.42 L204.09,221.06 L204.90,220.70 L205.72,220.34 L206.53,219.97 L207.34,219.60 L208.16,219.23 L208.97,218.86 L209.78,218.49 L210.60,218.12 L211.41,217.74 L212.23,217.37 L213.04,216.99 L213.85,216.61 L214.67,216.23 L215.48,215.84 L216.29,215.46 L217.11,215.07 L217.92,214.68 L218.73,214.29 L219.55,213.90 L220.36,213.50 L221.18,213.11 L221.99,212.71 L222.80,212.31 L223.62,211.91 L224.43,211.51 L225.24,211.10 L226.06,210.69 L226.87,210.29 L227.68,209.88 L228.50,209.47 L229.31,209.05 L230.13,208.64 L230.94,208.22 L231.75,207.80 L232.57,207.38 L233.38,206.96 L234.19,206.54 L235.01,206.11 L235.82,205.69 L236.63,205.26 L237.45,204.83 L238.26,204.40 L239.08,203.96 L239.89,203.53 L240.70,203.09 L241.52,202.65 L242.33,202.21 L243.14,201.77 L243.96,201.33 L244.77,200.88 L245.58,200.43 L246.40,199.99 L247.21,199.54 L248.03,199.08 L248.84,198.63 L249.65,198.17 L250.47,197.72 L251.28,197.26 L252.09,196.80 L252.91,196.34 L253.72,195.87 L254.53,195.41 L255.35,194.94 L256.16,194.47 L256.97,194.00 L257.79,193.53 L258.60,193.05 L259.42,192.58 L260.23,192.10 L261.04,191.62 L261.86,191.14 L262.67,190.66 L263.48,190.17 L264.30,189.69 L265.11,189.20 L265.92,188.71 L266.74,188.22 L267.55,187.73 L268.37,187.23 L269.18,186.74 L269.99,186.24 L270.81,185.74 L271.62,185.24 L272.43,184.74 L273.25,184.23 L274.06,183.73 L274.87,183.22 L275.69,182.71 L276.50,182.20 L277.32,181.69 L278.13,181.17 L278.94,180.66 L279.76,180.14 L280.57,179.62 L281.38,179.10 L282.20,178.57 L283.01,178.05 L283.82,177.52 L284.64,177.00 L285.45,176.47 L286.27,175.94 L287.08,175.40 L287.89,174.87 L288.71,174.33 L289.52,173.79 L290.33,173.25 L291.15,172.71 L291.96,172.17 L292.77,171.63 L293.59,171.08 L294.40,170.53 L295.22,169.98 L296.03,169.43 L296.84,168.88 L297.66,168.32 L298.47,167.77 L299.28,167.21 L300.10,166.65 L300.91,166.09 L301.72,165.53 L302.54,164.96 L303.35,164.39 L304.17,163.83 L304.98,163.26 L305.79,162.68 L306.61,162.11 L307.42,161.54 L308.23,160.96 L309.05,160.38 L309.86,159.80 L310.67,159.22 L311.49,158.64 L312.30,158.05 L313.12,157.47 L313.93,156.88 L314.74,156.29 L315.56,155.70 L316.37,155.10 L317.18,154.51 L318.00,153.91 L318.81,153.31 L319.62,152.71 L320.44,152.11 L321.25,151.51 L322.07,150.90 L322.88,150.30 L323.69,149.69 L324.51,149.08 L325.32,148.47 L326.13,147.85 L326.95,147.24 L327.76,146.62 L328.57,146.00 L329.39,145.38 L330.20,144.76 L331.02,144.14 L331.83,143.51 L332.64,142.88 L333.46,142.25 L334.27,141.62 L335.08,140.99 L335.90,140.36 L336.71,139.72 L337.52,139.09 L338.34,138.45 L339.15,137.81 L339.96,137.16 L340.78,136.52 L341.59,135.87 L342.41,135.23 L343.22,134.58 L344.03,133.93 L344.85,133.27 L345.66,132.62 L346.47,131.96 L347.29,131.31 L348.10,130.65 L348.91,129.99 L349.73,129.32 L350.54,128.66 L351.36,127.99 L352.17,127.32 L352.98,126.65 L353.80,125.98 L354.61,125.31 L355.42,124.64 L356.24,123.96 L357.05,123.28 L357.86,122.60 L358.68,121.92 L359.49,121.24 L360.31,120.55 L361.12,119.86 L361.93,119.18 L362.75,118.49 L363.56,117.79 L364.37,117.10 L365.19,116.41 L366.00,115.71 L366.81,115.01 L367.63,114.31 L368.44,113.61 L369.26,112.90 L370.07,112.20 L370.88,111.49 L371.70,110.78 L372.51,110.07 L373.32,109.36 L374.14,108.64 L374.95,107.93 L375.76,107.21 L376.58,106.49 L377.39,105.77 L378.21,105.04 L379.02,104.32 L379.83,103.59 L380.65,102.86 L381.46,102.13 L382.27,101.40 L383.09,100.67 L383.90,99.93 L384.71,99.20 L385.53,98.46 L386.34,97.72 L387.16,96.98 L387.97,96.23 L388.78,95.49 L389.60,94.74 L390.41,93.99 L391.22,93.24 L392.04,92.48 L392.85,91.73 L393.66,90.97 L394.48,90.22 L395.29,89.46 L396.11,88.69 L396.92,87.93 L397.73,87.17 L398.55,86.40 L399.36,85.63 L400.17,84.86 L400.99,84.09 L401.80,83.31 L402.61,82.54 L403.43,81.76 L404.24,80.98 L405.06,80.20 L405.87,79.42 L406.68,78.63 L407.50,77.84 L408.31,77.06 L409.12,76.27 L409.94,75.47 L410.75,74.68 L411.56,73.88 L412.38,73.09 L413.19,72.29 L414.01,71.49 L414.82,70.68 L415.63,69.88 L416.45,69.07 L417.26,68.27 L418.07,67.46 L418.89,66.64 L419.70,65.83 L420.51,65.01 L421.33,64.20 L422.14,63.38 L422.95,62.56 L423.77,61.73 L424.58,60.91 L425.40,60.08 L426.21,59.26 L427.02,58.43 L427.84,57.59 L428.65,56.76 L429.46,55.92 L430.28,55.09 L431.09,54.25 L431.90,53.41 L432.72,52.56 L433.53,51.72 L434.35,50.87 L435.16,50.02 L435.97,49.17 L436.79,48.32 L437.60,47.47 L438.41,46.61 L439.23,45.76 L440.04,44.90 L440.85,44.03 L441.67,43.17 L442.48,42.31 L443.30,41.44 L444.11,40.57 L444.92,39.70 L445.74,38.83 L446.55,37.95 L447.36,37.08 L448.18,36.20 L448.99,35.32 L449.80,34.44 L450.62,33.55 L451.43,32.67 L452.25,31.78 L453.06,30.89 L453.87,30.00 L454.69,29.11 L455.50,28.21" stroke="#ff0000"/>
<path d="M49.50,256.50 L50.31,256.50 L51.13,256.48 L51.94,256.46 L52.75,256.43 L53.57,256.40 L54.38,256.35 L55.20,256.30 L56.01,256.24 L56.82,256.17 L57.64,256.09 L58.45,256.00 L59.26,255.91 L60.08,255.80 L60.89,255.69 L61.70,255.57 L62.52,255.45 L63.33,255.31 L64.15,255.17 L64.96,255.01 L65.77,254.85 L66.59,254.68 L67.40,254.51 L68.21,254.32 L69.03,254.13 L69.84,253.93 L70.65,253.72 L71.47,253.50 L72.28,253.27 L73.10,253.04 L73.91,252.79 L74.72,252.54 L75.54,252.28 L76.35,252.02 L77.16,251.74 L77.98,251.46 L78.79,251.16 L79.60,250.86 L80.42,250.56 L81.23,250.24 L82.05,249.91 L82.86,249.58 L83.67,249.24 L84.49,248.89 L85.30,248.53 L86.11,248.16 L86.93,247.79 L87.74,247.41 L88.55,247.02 L89.37,246.62 L90.18,246.21 L90.99,245.79 L91.81,245.37 L92.62,244.94 L93.44,244.50 L94.25,244.05 L95.06,243.59 L95.88,243.12 L96.69,242.65 L97.50,242.17 L98.32,241.68 L99.13,241.18 L99.94,240.68 L100.76,240.16 L101.57,239.64 L102.39,239.11 L103.20,238.57 L104.01,238.02 L104.83,237.46 L105.64,236.90 L106.45,236.33 L107.27,235.75 L108.08,235.16 L108.89,234.56 L109.71,233.96 L110.52,233.34 L111.34,232.72 L112.15,232.09 L112.96,231.45 L113.78,230.81 L114.59,230.15 L115.40,229.49 L116.22,228.82 L117.03,228.14 L117.84,227.45 L118.66,226.76 L119.47,226.05 L120.29,225.34 L121.10,224.62 L121.91,223.89 L122.73,223.15 L123.54,222.41 L124.35,221.66 L125.17,220.89 L125.98,220.12 L126.79,219.35 L127.61,218.56 L128.42,217.77 L129.24,216.96 L130.05,216.15 L130.86,215.33 L131.68,214.51 L132.49,213.67 L133.30,212.83 L134.12,211.97 L134.93,211.11 L135.74,210.24 L136.56,209.37 L137.37,208.48 L138.19,207.59 L139.00,206.69 L139.81,205.78 L140.63,204.86 L141.44,203.93 L142.25,203.00 L143.07,202.06 L143.88,201.11 L144.69,200.15 L145.51,199.18 L146.32,198.20 L147.14,197.22 L147.95,196.23 L148.76,195.23 L149.58,194.22 L150.39,193.20 L151.20,192.18 L152.02,191.14 L152.83,190.10 L153.64,189.05 L154.46,187.99 L155.27,186.93 L156.09,185.85 L156.90,184.77 L157.71,183.68 L158.53,182.58 L159.34,181.47 L160.15,180.36 L160.97,179.23 L161.78,178.10 L162.59,176.96 L163.41,175.81 L164.22,174.66 L165.04,173.49 L165.85,172.32 L166.66,171.14 L167.48,169.95 L168.29,168.75 L169.10,167.54 L169.92,166.33 L170.73,165.10 L171.54,163.87 L172.36,162.63 L173.17,161.39 L173.98,160.13 L174.80,158.87 L175.61,157.60 L176.43,156.32 L177.24,155.03 L178.05,153.73 L178.87,152.43 L179.68,151.11 L180.49,149.79 L181.31,148.46 L182.12,147.12 L182.93,145.78 L183.75,144.42 L184.56,143.06 L185.38,141.69 L186.19,140.31 L187.00,138.92 L187.82,137.53 L188.63,136.12 L189.44,134.71 L190.26,133.29 L191.07,131.86 L191.88,130.43 L192.70,128.98 L193.51,127.53 L194.33,126.07 L195.14,124.60 L195.95,123.12 L196.77,121.63 L197.58,120.14 L198.39,118.64 L199.21,117.12 L200.02,115.61 L200.83,114.08 L201.65,112.54 L202.46,111.00 L203.28,109.45 L204.09,107.89 L204.90,106.32 L205.72,104.74 L206.53,103.16 L207.34,101.56 L208.16,99.96 L208.97,98.35 L209.78,96.73 L210.60,95.11 L211.41,93.47 L212.23,91.83 L213.04,90.18 L213.85,88.52 L214.67,86.85 L215.48,85.18 L216.29,83.49 L217.11,81.80 L217.92,80.10 L218.73,78.39 L219.55,76.68 L220.36,74.95 L221.18,73.22 L221.99,71.48 L222.80,69.73 L223.62,67.97 L224.43,66.20 L225.24,64.43 L226.06,62.65 L226.87,60.86 L227.68,59.06 L228.50,57.25 L229.31,55.44 L230.13,53.61 L230.94,51.78 L231.75,49.94 L232.57,48.09 L233.38,46.23 L234.19,44.37 L235.01,42.50 L235.82,40.62 L236.63,38.73 L237.45,36.83 L238.26,34.92 L239.08,33.01 L239.89,31.09 L240.70,29.15 L241.52,27.22 L242.33,25.27 L243.14,23.31 L243.96,21.35 L244.77,19.38 L245.58,17.40 L246.40,15.41 L247.21,13.41 L248.03,11.41 L248.84,9.39 L249.65,7.37 L250.47,5.34 L251.28,3.31" stroke="#000000" stroke-dasharray="2.2 5.5" stroke-dashoffset="6.33"/>
<path d="M49.50,256.50 L50.31,256.50 L51.13,256.48 L51.94,256.46 L52.75,256.43 L53.57,256.40 L54.38,256.35 L55.20,256.30 L56.01,256.24 L56.82,256.17 L57.64,256.09 L58.45,256.01 L59.26,255.92 L60.08,255.81 L60.89,255.71 L61.70,255.59 L62.52,255.46 L63.33,255.33 L64.15,255.19 L64.96,255.04 L65.77,254.88 L66.59,254.72 L67.40,254.55 L68.21,254.37 L69.03,254.18 L69.84,253.98 L70.65,253.78 L71.47,253.56 L72.28,253.34 L73.10,253.12 L73.91,252.88 L74.72,252.64 L75.54,252.39 L76.35,252.13 L77.16,251.86 L77.98,251.58 L78.79,251.30 L79.60,251.01 L80.42,250.71 L81.23,250.41 L82.05,250.10 L82.86,249.77 L83.67,249.45 L84.49,249.11 L85.30,248.76 L86.11,248.41 L86.93,248.05 L87.74,247.69 L88.55,247.31 L89.37,246.93 L90.18,246.54 L90.99,246.14 L91.81,245.74 L92.62,245.32 L93.44,244.90 L94.25,244.48 L95.06,244.04 L95.88,243.60 L96.69,243.15 L97.50,242.69 L98.32,242.23 L99.13,241.75 L99.94,241.27 L100.76,240.79 L101.57,240.29 L102.39,239.79 L103.20,239.28 L104.01,238.76 L104.83,238.24 L105.64,237.70 L106.45,237.17 L107.27,236.62 L108.08,236.06 L108.89,235.50 L109.71,234.93 L110.52,234.36 L111.34,233.78 L112.15,233.18 L112.96,232.59 L113.78,231.98 L114.59,231.37 L115.40,230.75 L116.22,230.12 L117.03,229.49 L117.84,228.85 L118.66,228.20 L119.47,227.54 L120.29,226.88 L121.10,226.21 L121.91,225.53 L122.73,224.85 L123.54,224.16 L124.35,223.46 L125.17,222.75 L125.98,222.04 L126.79,221.32 L127.61,220.60 L128.42,219.86 L129.24,219.12 L130.05,218.37 L130.86,217.62 L131.68,216.86 L132.49,216.09 L133.30,215.31 L134.12,214.53 L134.93,213.74 L135.74,212.94 L136.56,212.14 L137.37,211.33 L138.19,210.51 L139.00,209.69 L139.81,208.85 L140.63,208.02 L141.44,207.17 L142.25,206.32 L143.07,205.46 L143.88,204.59 L144.69,203.72 L145.51,202.84 L146.32,201.96 L147.14,201.06 L147.95,200.17 L148.76,199.26 L149.58,198.35 L150.39,197.43 L151.20,196.50 L152.02,195.57 L152.83,194.63 L153.64,193.68 L154.46,192.73 L155.27,191.77 L156.09,190.80 L156.90,189.83 L157.71,188.85 L158.53,187.86 L159.34,186.87 L160.15,185.87 L160.97,184.86 L161.78,183.85 L162.59,182.83 L163.41,181.81 L164.22,180.77 L165.04,179.73 L165.85,178.69 L166.66,177.64 L167.48,176.58 L168.29,175.51 L169.10,174.44 L169.92,173.37 L170.73,172.28 L171.54,171.19 L172.36,170.09 L173.17,168.99 L173.98,167.88 L174.80,166.76 L175.61,165.64 L176.43,164.51 L177.24,163.38 L178.05,162.24 L178.87,161.09 L179.68,159.94 L180.49,158.77 L181.31,157.61 L182.12,156.44 L182.93,155.26 L183.75,154.07 L184.56,152.88 L185.38,151.68 L186.19,150.48 L187.00,149.27 L187.82,148.05 L188.63,146.83 L189.44,145.60 L190.26,144.36 L191.07,143.12 L191.88,141.88 L192.70,140.62 L193.51,139.36 L194.33,138.10 L195.14,136.83 L195.95,135.55 L196.77,134.27 L197.58,132.98 L198.39,131.68 L199.21,130.38 L200.02,129.07 L200.83,127.76 L201.65,126.44 L202.46,125.11 L203.28,123.78 L204.09,122.44 L204.90,121.10 L205.72,119.75 L206.53,118.40 L207.34,117.03 L208.16,115.67 L208.97,114.30 L209.78,112.92 L210.60,111.53 L211.41,110.14 L212.23,108.75 L213.04,107.34 L213.85,105.94 L214.67,104.52 L215.48,103.10 L216.29,101.68 L217.11,100.25 L217.92,98.81 L218.73,97.37 L219.55,95.92 L220.36,94.47 L221.18,93.01 L221.99,91.54 L222.80,90.07 L223.62,88.60 L224.43,87.11 L225.24,85.63 L226.06,84.13 L226.87,82.63 L227.68,81.13 L228.50,79.62 L229.31,78.11 L230.13,76.58 L230.94,75.06 L231.75,73.53 L232.57,71.99 L233.38,70.45 L234.19,68.90 L235.01,67.34 L235.82,65.78 L236.63,64.22 L237.45,62.65 L238.26,61.07 L239.08,59.49 L239.89,57.90 L240.70,56.31 L241.52,54.72 L242.33,53.11 L243.14,51.50 L243.96,49.89 L244.77,48.27 L245.58,46.65 L246.40,45.02 L247.21,43.39 L248.03,41.75 L248.84,40.10 L249.65,38.45 L250.47,36.79 L251.28,35.13 L252.09,33.47 L252.91,31.80 L253.72,30.12 L254.53,28.44 L255.35,26.75 L256.16,25.06 L256.97,23.36 L257.79,21.66 L258.60,19.95 L259.42,18.24 L260.23,16.52 L261.04,14.80 L261.86,13.07 L262.67,11.34 L263.48,9.60 L264.30,7.86 L265.11,6.11 L265.92,4.36" stroke="#000000" stroke-dasharray="8.2 4.5" stroke-dashoffset="3.77"/>
<path d="M49.50,256.50 L50.31,256.50 L51.13,256.48 L51.94,256.46 L52.75,256.43 L53.57,256.40 L54.38,256.35 L55.20,256.30 L56.01,256.24 L56.82,256.17 L57.64,256.09 L58.45,256.01 L59.26,255.92 L60.08,255.82 L60.89,255.71 L61.70,255.59 L62.52,255.46 L63.33,255.33 L64.15,255.19 L64.96,255.04 L65.77,254.89 L66.59,254.72 L67.40,254.55 L68.21,254.37 L69.03,254.18 L69.84,253.99 L70.65,253.78 L71.47,253.57 L72.28,253.35 L73.10,253.12 L73.91,252.89 L74.72,252.65 L75.54,252.40 L76.35,252.14 L77.16,251.87 L77.98,251.60 L78.79,251.32 L79.60,251.03 L80.42,250.73 L81.23,250.43 L82.05,250.12 L82.86,249.80 L83.67,249.47 L84.49,249.14 L85.30,248.79 L86.11,248.44 L86.93,248.09 L87.74,247.72 L88.55,247.35 L89.37,246.97 L90.18,246.58 L90.99,246.19 L91.81,245.78 L92.62,245.37 L93.44,244.96 L94.25,244.53 L95.06,244.10 L95.88,243.66 L96.69,243.21 L97.50,242.76 L98.32,242.30 L99.13,241.83 L99.94,241.35 L100.76,240.87 L101.57,240.38 L102.39,239.88 L103.20,239.37 L104.01,238.86 L104.83,238.34 L105.64,237.81 L106.45,237.28 L107.27,236.74 L108.08,236.19 L108.89,235.63 L109.71,235.07 L110.52,234.50 L111.34,233.92 L112.15,233.33 L112.96,232.74 L113.78,232.14 L114.59,231.54 L115.40,230.92 L116.22,230.30 L117.03,229.68 L117.84,229.04 L118.66,228.40 L119.47,227.75 L120.29,227.10 L121.10,226.43 L121.91,225.76 L122.73,225.09 L123.54,224.40 L124.35,223.71 L125.17,223.02 L125.98,222.31 L126.79,221.60 L127.61,220.88 L128.42,220.16 L129.24,219.43 L130.05,218.69 L130.86,217.94 L131.68,217.19 L132.49,216.43 L133.30,215.66 L134.12,214.89 L134.93,214.11 L135.74,213.33 L136.56,212.53 L137.37,211.73 L138.19,210.93 L139.00,210.11 L139.81,209.30 L140.63,208.47 L141.44,207.64 L142.25,206.80 L143.07,205.95 L143.88,205.10 L144.69,204.24 L145.51,203.37 L146.32,202.50 L147.14,201.62 L147.95,200.73 L148.76,199.84 L149.58,198.94 L150.39,198.04 L151.20,197.12 L152.02,196.21 L152.83,195.28 L153.64,194.35 L154.46,193.41 L155.27,192.47 L156.09,191.52 L156.90,190.56 L157.71,189.60 L158.53,188.63 L159.34,187.65 L160.15,186.67 L160.97,185.68 L161.78,184.68 L162.59,183.68 L163.41,182.68 L164.22,181.66 L165.04,180.64 L165.85,179.61 L166.66,178.58 L167.48,177.54 L168.29,176.50 L169.10,175.45 L169.92,174.39 L170.73,173.32 L171.54,172.25 L172.36,171.18 L173.17,170.10 L173.98,169.01 L174.80,167.91 L175.61,166.81 L176.43,165.71 L177.24,164.59 L178.05,163.47 L178.87,162.35 L179.68,161.22 L180.49,160.08 L181.31,158.94 L182.12,157.79 L182.93,156.63 L183.75,155.47 L184.56,154.31 L185.38,153.13 L186.19,151.96 L187.00,150.77 L187.82,149.58 L188.63,148.38 L189.44,147.18 L190.26,145.97 L191.07,144.76 L191.88,143.54 L192.70,142.31 L193.51,141.08 L194.33,139.85 L195.14,138.60 L195.95,137.35 L196.77,136.10 L197.58,134.84 L198.39,133.57 L199.21,132.30 L200.02,131.03 L200.83,129.74 L201.65,128.45 L202.46,127.16 L203.28,125.86 L204.09,124.55 L204.90,123.24 L205.72,121.93 L206.53,120.60 L207.34,119.28 L208.16,117.94 L208.97,116.60 L209.78,115.26 L210.60,113.91 L211.41,112.55 L212.23,111.19 L213.04,109.83 L213.85,108.45 L214.67,107.08 L215.48,105.69 L216.29,104.30 L217.11,102.91 L217.92,101.51 L218.73,100.11 L219.55,98.70 L220.36,97.28 L221.18,95.86 L221.99,94.43 L222.80,93.00 L223.62,91.57 L224.43,90.12 L225.24,88.68 L226.06,87.23 L226.87,85.77 L227.68,84.30 L228.50,82.84 L229.31,81.36 L230.13,79.88 L230.94,78.40 L231.75,76.91 L232.57,75.42 L233.38,73.92 L234.19,72.41 L235.01,70.90 L235.82,69.39 L236.63,67.87 L237.45,66.35 L238.26,64.82 L239.08,63.28 L239.89,61.74 L240.70,60.20 L241.52,58.65 L242.33,57.09 L243.14,55.53 L243.96,53.97 L244.77,52.40 L245.58,50.82 L246.40,49.24 L247.21,47.66 L248.03,46.07 L248.84,44.47 L249.65,42.87 L250.47,41.27 L251.28,39.66 L252.09,38.05 L252.91,36.43 L253.72,34.80 L254.53,33.18 L255.35,31.54 L256.16,29.90 L256.97,28.26 L257.79,26.61 L258.60,24.96 L259.42,23.30 L260.23,21.64 L261.04,19.98 L261.86,18.31 L262.67,16.63 L263.48,14.95 L264.30,13.27 L265.11,11.58 L265.92,9.88 L266.74,8.18 L267.55,6.48 L268.37,4.77 L269.18,3.06" stroke="#000000"/>
<path d="M49.50,256.50 L50.31,256.48 L51.13,256.43 L51.94,256.35 L52.75,256.24 L53.57,256.09 L54.38,255.91 L55.20,255.69 L56.01,255.45 L56.82,255.17 L57.64,254.86 L58.45,254.51 L59.26,254.13 L60.08,253.72 L60.89,253.28 L61.70,252.80 L62.52,252.29 L63.33,251.75 L64.15,251.18 L64.96,250.57 L65.77,249.93 L66.59,249.25 L67.40,248.55 L68.21,247.81 L69.03,247.03 L69.84,246.23 L70.65,245.39 L71.47,244.52 L72.28,243.62 L73.10,242.68 L73.91,241.71 L74.72,240.71 L75.54,239.67 L76.35,238.60 L77.16,237.50 L77.98,236.37 L78.79,235.20 L79.60,234.00 L80.42,232.77 L81.23,231.50 L82.05,230.21 L82.86,228.88 L83.67,227.51 L84.49,226.11 L85.30,224.68 L86.11,223.22 L86.93,221.73 L87.74,220.20 L88.55,218.64 L89.37,217.04 L90.18,215.42 L90.99,213.76 L91.81,212.06 L92.62,210.34 L93.44,208.58 L94.25,206.79 L95.06,204.96 L95.88,203.11 L96.69,201.22 L97.50,199.29 L98.32,197.34 L99.13,195.35 L99.94,193.33 L100.76,191.27 L101.57,189.19 L102.39,187.07 L103.20,184.91 L104.01,182.73 L104.83,180.51 L105.64,178.26 L106.45,175.98 L107.27,173.66 L108.08,171.31 L108.89,168.92 L109.71,166.51 L110.52,164.06 L111.34,161.58 L112.15,159.06 L112.96,156.52 L113.78,153.94 L114.59,151.32 L115.40,148.68 L116.22,146.00 L117.03,143.29 L117.84,140.54 L118.66,137.77 L119.47,134.96 L120.29,132.11 L121.10,129.24 L121.91,126.33 L122.73,123.39 L123.54,120.41 L124.35,117.41 L125.17,114.37 L125.98,111.29 L126.79,108.19 L127.61,105.05 L128.42,101.88 L129.24,98.67 L130.05,95.43 L130.86,92.16 L131.68,88.86 L132.49,85.52 L133.30,82.16 L134.12,78.75 L134.93,75.32 L135.74,71.85 L136.56,68.35 L137.37,64.82 L138.19,61.25 L139.00,57.65 L139.81,54.02 L140.63,50.36 L141.44,46.66 L142.25,42.93 L143.07,39.16 L143.88,35.37 L144.69,31.54 L145.51,27.68 L146.32,23.78 L147.14,19.86 L147.95,15.89 L148.76,11.90 L149.58,7.88 L150.39,3.82" stroke="#00ff00" stroke-dasharray="2.2 5.5" stroke-dashoffset="6.28"/>
<path d="M49.50,256.50 L50.31,256.48 L51.13,256.44 L51.94,256.36 L52.75,256.25 L53.57,256.11 L54.38,255.93 L55.20,255.73 L56.01,255.50 L56.82,255.23 L57.64,254.93 L58.45,254.61 L59.26,254.25 L60.08,253.86 L60.89,253.44 L61.70,252.99 L62.52,252.51 L63.33,252.00 L64.15,251.46 L64.96,250.89 L65.77,250.29 L66.59,249.65 L67.40,248.99 L68.21,248.30 L69.03,247.58 L69.84,246.83 L70.65,246.05 L71.47,245.24 L72.28,244.39 L73.10,243.52 L73.91,242.63 L74.72,241.70 L75.54,240.74 L76.35,239.75 L77.16,238.73 L77.98,237.69 L78.79,236.61 L79.60,235.51 L80.42,234.38 L81.23,233.21 L82.05,232.02 L82.86,230.80 L83.67,229.56 L84.49,228.28 L85.30,226.98 L86.11,225.64 L86.93,224.28 L87.74,222.89 L88.55,221.47 L89.37,220.03 L90.18,218.55 L90.99,217.05 L91.81,215.52 L92.62,213.96 L93.44,212.38 L94.25,210.76 L95.06,209.12 L95.88,207.46 L96.69,205.76 L97.50,204.04 L98.32,202.29 L99.13,200.51 L99.94,198.70 L100.76,196.87 L101.57,195.01 L102.39,193.13 L103.20,191.22 L104.01,189.28 L104.83,187.31 L105.64,185.32 L106.45,183.30 L107.27,181.25 L108.08,179.18 L108.89,177.08 L109.71,174.96 L110.52,172.81 L111.34,170.63 L112.15,168.43 L112.96,166.20 L113.78,163.94 L114.59,161.66 L115.40,159.35 L116.22,157.02 L117.03,154.67 L117.84,152.28 L118.66,149.87 L119.47,147.44 L120.29,144.98 L121.10,142.50 L121.91,139.99 L122.73,137.45 L123.54,134.89 L124.35,132.31 L125.17,129.70 L125.98,127.06 L126.79,124.40 L127.61,121.72 L128.42,119.01 L129.24,116.28 L130.05,113.52 L130.86,110.74 L131.68,107.94 L132.49,105.11 L133.30,102.25 L134.12,99.37 L134.93,96.47 L135.74,93.55 L136.56,90.60 L137.37,87.63 L138.19,84.63 L139.00,81.61 L139.81,78.56 L140.63,75.50 L141.44,72.41 L142.25,69.29 L143.07,66.16 L143.88,63.00 L144.69,59.81 L145.51,56.61 L146.32,53.38 L147.14,50.13 L147.95,46.85 L148.76,43.56 L149.58,40.24 L150.39,36.90 L151.20,33.53 L152.02,30.15 L152.83,26.74 L153.64,23.31 L154.46,19.85 L155.27,16.38 L156.09,12.88 L156.90,9.36 L157.71,5.82 L158.53,2.26" stroke="#00ff00" stroke-dasharray="8.2 4.5" stroke-dashoffset="0.00"/>
<path d="M49.50,256.50 L50.31,256.48 L51.13,256.44 L51.94,256.36 L52.75,256.25 L53.57,256.11 L54.38,255.94 L55.20,255.73 L56.01,255.50 L56.82,255.23 L57.64,254.94 L58.45,254.61 L59.26,254.25 L60.08,253.87 L60.89,253.45 L61.70,253.00 L62.52,252.52 L63.33,252.01 L64.15,251.47 L64.96,250.91 L65.77,250.31 L66.59,249.68 L67.40,249.02 L68.21,248.33 L69.03,247.62 L69.84,246.87 L70.65,246.09 L71.47,245.29 L72.28,244.45 L73.10,243.59 L73.91,242.69 L74.72,241.77 L75.54,240.82 L76.35,239.84 L77.16,238.83 L77.98,237.80 L78.79,236.73 L79.60,235.64 L80.42,234.52 L81.23,233.37 L82.05,232.19 L82.86,230.98 L83.67,229.75 L84.49,228.48 L85.30,227.19 L86.11,225.87 L86.93,224.53 L87.74,223.15 L88.55,221.75 L89.37,220.33 L90.18,218.87 L90.99,217.39 L91.81,215.88 L92.62,214.34 L93.44,212.78 L94.25,211.18 L95.06,209.57 L95.88,207.92 L96.69,206.25 L97.50,204.55 L98.32,202.83 L99.13,201.08 L99.94,199.30 L100.76,197.50 L101.57,195.67 L102.39,193.81 L103.20,191.93 L104.01,190.03 L104.83,188.09 L105.64,186.13 L106.45,184.15 L107.27,182.14 L108.08,180.11 L108.89,178.05 L109.71,175.96 L110.52,173.85 L111.34,171.71 L112.15,169.55 L112.96,167.37 L113.78,165.16 L114.59,162.92 L115.40,160.66 L116.22,158.38 L117.03,156.07 L117.84,153.73 L118.66,151.38 L119.47,149.00 L120.29,146.59 L121.10,144.16 L121.91,141.71 L122.73,139.23 L123.54,136.73 L124.35,134.20 L125.17,131.65 L125.98,129.08 L126.79,126.48 L127.61,123.86 L128.42,121.22 L129.24,118.55 L130.05,115.87 L130.86,113.15 L131.68,110.42 L132.49,107.66 L133.30,104.88 L134.12,102.08 L134.93,99.25 L135.74,96.40 L136.56,93.53 L137.37,90.64 L138.19,87.73 L139.00,84.79 L139.81,81.83 L140.63,78.85 L141.44,75.84 L142.25,72.82 L143.07,69.77 L143.88,66.70 L144.69,63.61 L145.51,60.50 L146.32,57.37 L147.14,54.21 L147.95,51.04 L148.76,47.84 L149.58,44.63 L150.39,41.39 L151.20,38.13 L152.02,34.85 L152.83,31.55 L153.64,28.23 L154.46,24.88 L155.27,21.52 L156.09,18.14 L156.90,14.74 L157.71,11.31 L158.53,7.87 L159.34,4.41 L160.15,0.92" stroke="#00ff00"/>
<path d="M49.50,256.50 L50.31,256.44 L51.13,256.25 L51.94,255.93 L52.75,255.48 L53.57,254.91 L54.38,254.21 L55.20,253.38 L56.01,252.42 L56.82,251.34 L57.64,250.13 L58.45,248.79 L59.26,247.32 L60.08,245.73 L60.89,244.01 L61.70,242.16 L62.52,240.18 L63.33,238.08 L64.15,235.85 L64.96,233.49 L65.77,231.00 L66.59,228.39 L67.40,225.65 L68.21,222.78 L69.03,219.78 L69.84,216.66 L70.65,213.41 L71.47,210.03 L72.28,206.53 L73.10,202.89 L73.91,199.13 L74.72,195.24 L75.54,191.23 L76.35,187.08 L77.16,182.81 L77.98,178.42 L78.79,173.89 L79.60,169.24 L80.42,164.46 L81.23,159.55 L82.05,154.51 L82.86,149.35 L83.67,144.06 L84.49,138.64 L85.30,133.09 L86.11,127.42 L86.93,121.62 L87.74,115.69 L88.55,109.64 L89.37,103.45 L90.18,97.14 L90.99,90.71 L91.81,84.14 L92.62,77.45 L93.44,70.63 L94.25,63.68 L95.06,56.60 L95.88,49.40 L96.69,42.07 L97.50,34.61 L98.32,27.03 L99.13,19.31 L99.94,11.47 L100.76,3.51" stroke="#996633" stroke-dasharray="2.2 5.5" stroke-dashoffset="5.00"/>
<path d="M49.50,256.50 L50.31,256.44 L51.13,256.26 L51.94,255.95 L52.75,255.52 L53.57,254.97 L54.38,254.31 L55.20,253.52 L56.01,252.61 L56.82,251.58 L57.64,250.44 L58.45,249.17 L59.26,247.79 L60.08,246.29 L60.89,244.67 L61.70,242.94 L62.52,241.09 L63.33,239.12 L64.15,237.04 L64.96,234.85 L65.77,232.54 L66.59,230.11 L67.40,227.58 L68.21,224.93 L69.03,222.16 L69.84,219.29 L70.65,216.30 L71.47,213.21 L72.28,210.00 L73.10,206.68 L73.91,203.25 L74.72,199.71 L75.54,196.07 L76.35,192.31 L77.16,188.45 L77.98,184.48 L78.79,180.40 L79.60,176.22 L80.42,171.93 L81.23,167.53 L82.05,163.03 L82.86,158.43 L83.67,153.72 L84.49,148.91 L85.30,143.99 L86.11,138.97 L86.93,133.85 L87.74,128.62 L88.55,123.30 L89.37,117.87 L90.18,112.35 L90.99,106.72 L91.81,100.99 L92.62,95.17 L93.44,89.24 L94.25,83.22 L95.06,77.10 L95.88,70.89 L96.69,64.57 L97.50,58.16 L98.32,51.66 L99.13,45.06 L99.94,38.36 L100.76,31.57 L101.57,24.69 L102.39,17.71 L103.20,10.64 L104.01,3.48" stroke="#996633" stroke-dasharray="8.2 4.5" stroke-dashoffset="0.00"/>
<path d="M49.50,256.50 L50.31,256.44 L51.13,256.26 L51.94,255.95 L52.75,255.52 L53.57,254.98 L54.38,254.31 L55.20,253.52 L56.01,252.62 L56.82,251.60 L57.64,250.46 L58.45,249.20 L59.26,247.82 L60.08,246.33 L60.89,244.73 L61.70,243.01 L62.52,241.17 L63.33,239.22 L64.15,237.16 L64.96,234.98 L65.77,232.70 L66.59,230.30 L67.40,227.79 L68.21,225.17 L69.03,222.44 L69.84,219.60 L70.65,216.65 L71.47,213.60 L72.28,210.43 L73.10,207.16 L73.91,203.78 L74.72,200.30 L75.54,196.71 L76.35,193.02 L77.16,189.22 L77.98,185.32 L78.79,181.31 L79.60,177.21 L80.42,173.00 L81.23,168.69 L82.05,164.28 L82.86,159.76 L83.67,155.15 L84.49,150.44 L85.30,145.63 L86.11,140.72 L86.93,135.72 L87.74,130.62 L88.55,125.42 L89.37,120.12 L90.18,114.73 L90.99,109.25 L91.81,103.67 L92.62,98.00 L93.44,92.23 L94.25,86.37 L95.06,80.42 L95.88,74.38 L96.69,68.25 L97.50,62.03 L98.32,55.71 L99.13,49.31 L99.94,42.82 L100.76,36.24 L101.57,29.58 L102.39,22.83 L103.20,15.99 L104.01,9.06 L104.83,2.05" stroke="#996633"/>
</g>
<g font-family="Liberation Serif, serif" font-size="13.6" fill="#000" stroke="#000" stroke-width="0.06" letter-spacing="0">
<text x="50.10" y="273.6" text-anchor="middle">0</text>
<text x="131.22" y="273.6" text-anchor="middle">20</text>
<text x="212.34" y="273.6" text-anchor="middle">40</text>
<text x="293.46" y="273.6" text-anchor="middle">60</text>
<text x="374.58" y="273.6" text-anchor="middle">80</text>
<text x="455.10" y="273.6" text-anchor="middle">100</text>
<text x="45.5" y="260.60" text-anchor="end">0.0</text>
<text x="45.5" y="219.30" text-anchor="end">0.5</text>
<text x="45.5" y="178.00" text-anchor="end">1.0</text>
<text x="45.5" y="136.70" text-anchor="end">1.5</text>
<text x="45.5" y="95.40" text-anchor="end">2.0</text>
<text x="45.5" y="54.10" text-anchor="end">2.5</text>
<text x="45.5" y="12.80" text-anchor="end">3.0</text>
</g>
<g font-family="Liberation Serif, serif" font-size="13.6" fill="#000" stroke="#000" stroke-width="0.06" letter-spacing="0">
<text x="52.8" y="23.2" font-style="italic">b</text><text x="59.9" y="25.5" font-size="10.2">0</text><path d="M65.8,18.9 h8.2 M65.8,21.5 h8.2" stroke="#000" stroke-width="0.9" fill="none"/><text x="75.0" y="23.2" letter-spacing="0">.008</text>
<g transform="translate(54.2,43.3)" fill="none" stroke="#000" stroke-linecap="round"><path d="M0.4,-4.9 C0.9,-6.6 2.2,-7.1 2.9,-6.0 C3.6,-4.8 4.0,-3.0 4.2,-1.0" stroke-width="1.25"/><path d="M7.4,-6.8 C6.6,-4.2 5.2,-1.8 4.2,-0.4 C3.4,0.8 2.9,1.6 2.5,2.1" stroke-width="0.75"/><circle cx="2.5" cy="1.8" r="0.55" fill="#000" stroke-width="0.5"/></g><path transform="translate(62.900000000000006,43.3)" d="M0,-4.2 c1.0,-1.7 2.4,-1.7 3.85,-0.6 c1.45,1.1 2.85,1.1 3.85,-0.6 M0,-2.2 h7.7" stroke="#000" stroke-width="1.0" fill="none"/><text x="70.7" y="43.3" letter-spacing="0">1022</text>
<text x="105.2" y="23.2" font-style="italic">b</text><text x="112.3" y="25.5" font-size="10.2">0</text><path d="M118.2,18.9 h8.2 M118.2,21.5 h8.2" stroke="#000" stroke-width="0.9" fill="none"/><text x="127.4" y="23.2" letter-spacing="0">.004</text>
<g transform="translate(110.4,43.3)" fill="none" stroke="#000" stroke-linecap="round"><path d="M0.4,-4.9 C0.9,-6.6 2.2,-7.1 2.9,-6.0 C3.6,-4.8 4.0,-3.0 4.2,-1.0" stroke-width="1.25"/><path d="M7.4,-6.8 C6.6,-4.2 5.2,-1.8 4.2,-0.4 C3.4,0.8 2.9,1.6 2.5,2.1" stroke-width="0.75"/><circle cx="2.5" cy="1.8" r="0.55" fill="#000" stroke-width="0.5"/></g><path transform="translate(119.10000000000001,43.3)" d="M0,-4.2 c1.0,-1.7 2.4,-1.7 3.85,-0.6 c1.45,1.1 2.85,1.1 3.85,-0.6 M0,-2.2 h7.7" stroke="#000" stroke-width="1.0" fill="none"/><text x="126.9" y="43.3" letter-spacing="0">511</text>
<text x="188.2" y="23.3" font-style="italic">b</text><text x="195.29999999999998" y="25.6" font-size="10.2">0</text><path d="M201.2,19.0 h8.2 M201.2,21.6 h8.2" stroke="#000" stroke-width="0.9" fill="none"/><text x="210.39999999999998" y="23.3" letter-spacing="0">.002</text>
<g transform="translate(193.5,43.3)" fill="none" stroke="#000" stroke-linecap="round"><path d="M0.4,-4.9 C0.9,-6.6 2.2,-7.1 2.9,-6.0 C3.6,-4.8 4.0,-3.0 4.2,-1.0" stroke-width="1.25"/><path d="M7.4,-6.8 C6.6,-4.2 5.2,-1.8 4.2,-0.4 C3.4,0.8 2.9,1.6 2.5,2.1" stroke-width="0.75"/><circle cx="2.5" cy="1.8" r="0.55" fill="#000" stroke-width="0.5"/></g><path transform="translate(202.2,43.3)" d="M0,-4.2 c1.0,-1.7 2.4,-1.7 3.85,-0.6 c1.45,1.1 2.85,1.1 3.85,-0.6 M0,-2.2 h7.7" stroke="#000" stroke-width="1.0" fill="none"/><text x="210.0" y="43.3" letter-spacing="0">256</text>
<text x="367.4" y="23.3" font-style="italic">b</text><text x="374.5" y="25.6" font-size="10.2">0</text><path d="M380.4,19.0 h8.2 M380.4,21.6 h8.2" stroke="#000" stroke-width="0.9" fill="none"/><text x="389.59999999999997" y="23.3" letter-spacing="0">.001</text>
<g transform="translate(372.4,43.3)" fill="none" stroke="#000" stroke-linecap="round"><path d="M0.4,-4.9 C0.9,-6.6 2.2,-7.1 2.9,-6.0 C3.6,-4.8 4.0,-3.0 4.2,-1.0" stroke-width="1.25"/><path d="M7.4,-6.8 C6.6,-4.2 5.2,-1.8 4.2,-0.4 C3.4,0.8 2.9,1.6 2.5,2.1" stroke-width="0.75"/><circle cx="2.5" cy="1.8" r="0.55" fill="#000" stroke-width="0.5"/></g><path transform="translate(381.09999999999997,43.3)" d="M0,-4.2 c1.0,-1.7 2.4,-1.7 3.85,-0.6 c1.45,1.1 2.85,1.1 3.85,-0.6 M0,-2.2 h7.7" stroke="#000" stroke-width="1.0" fill="none"/><text x="388.9" y="43.3" letter-spacing="0">128</text>
<text x="395.7" y="164.2" font-style="italic">b</text><text x="402.8" y="166.5" font-size="10.2">0</text><path d="M408.7,159.89999999999998 h8.2 M408.7,162.5 h8.2" stroke="#000" stroke-width="0.9" fill="none"/><text x="417.9" y="164.2" letter-spacing="0">.0005</text>
<g transform="translate(407.3,183.3)" fill="none" stroke="#000" stroke-linecap="round"><path d="M0.4,-4.9 C0.9,-6.6 2.2,-7.1 2.9,-6.0 C3.6,-4.8 4.0,-3.0 4.2,-1.0" stroke-width="1.25"/><path d="M7.4,-6.8 C6.6,-4.2 5.2,-1.8 4.2,-0.4 C3.4,0.8 2.9,1.6 2.5,2.1" stroke-width="0.75"/><circle cx="2.5" cy="1.8" r="0.55" fill="#000" stroke-width="0.5"/></g><path transform="translate(416.0,183.3)" d="M0,-4.2 c1.0,-1.7 2.4,-1.7 3.85,-0.6 c1.45,1.1 2.85,1.1 3.85,-0.6 M0,-2.2 h7.7" stroke="#000" stroke-width="1.0" fill="none"/><text x="423.8" y="183.3" letter-spacing="0">64</text>
<text x="388.2" y="228.5" font-style="italic">b</text><text x="395.3" y="230.8" font-size="10.2">0</text><path d="M401.2,224.2 h8.2 M401.2,226.8 h8.2" stroke="#000" stroke-width="0.9" fill="none"/><text x="410.4" y="228.5" letter-spacing="0">.00025</text>
<g transform="translate(402.6,248.9)" fill="none" stroke="#000" stroke-linecap="round"><path d="M0.4,-4.9 C0.9,-6.6 2.2,-7.1 2.9,-6.0 C3.6,-4.8 4.0,-3.0 4.2,-1.0" stroke-width="1.25"/><path d="M7.4,-6.8 C6.6,-4.2 5.2,-1.8 4.2,-0.4 C3.4,0.8 2.9,1.6 2.5,2.1" stroke-width="0.75"/><circle cx="2.5" cy="1.8" r="0.55" fill="#000" stroke-width="0.5"/></g><path transform="translate(411.3,248.9)" d="M0,-4.2 c1.0,-1.7 2.4,-1.7 3.85,-0.6 c1.45,1.1 2.85,1.1 3.85,-0.6 M0,-2.2 h7.7" stroke="#000" stroke-width="1.0" fill="none"/><text x="419.1" y="248.9" letter-spacing="0">32</text>
<text x="245.9" y="298.8" font-style="italic">a</text><text x="252.9" y="301.8" font-size="10.2">0</text>
<text transform="translate(14.5,156.6) rotate(-90)" font-size="14.5" letter-spacing="0.7" stroke-width="0">&lt;k<tspan font-size="10.5" dy="-6">0</tspan><tspan dy="6">&gt;/m</tspan></text>
</g>
</svg>
</body></html>
